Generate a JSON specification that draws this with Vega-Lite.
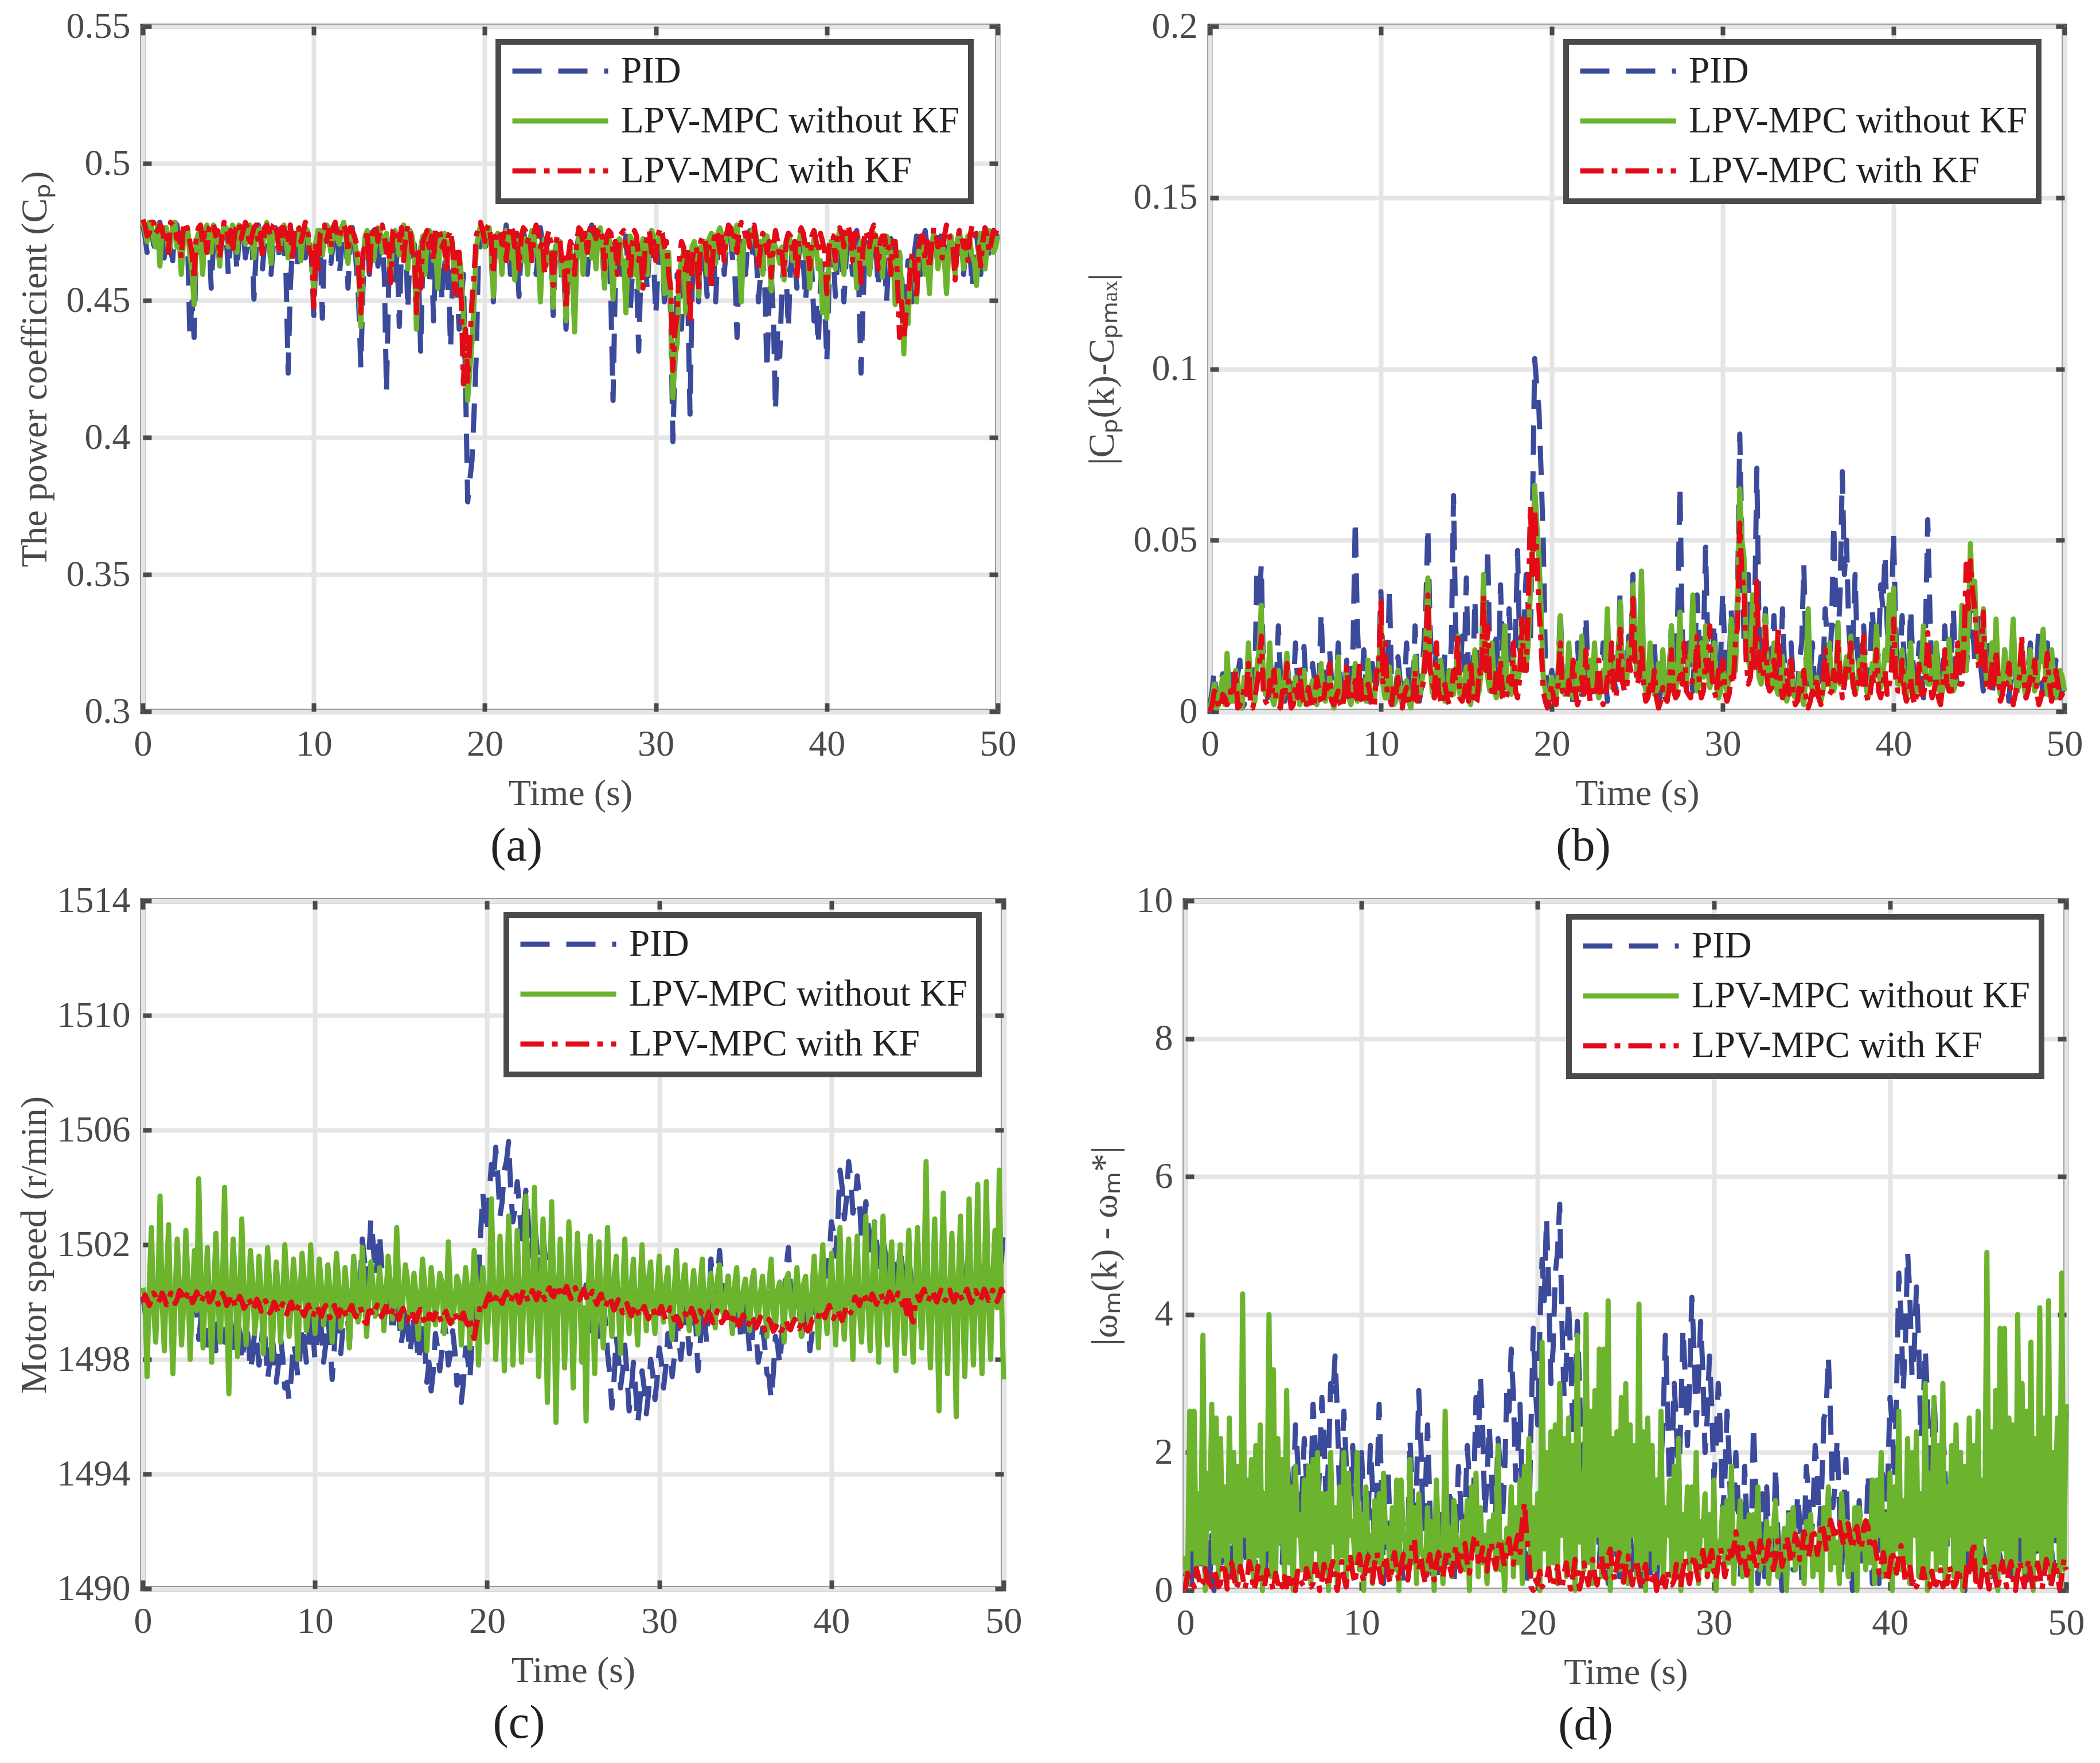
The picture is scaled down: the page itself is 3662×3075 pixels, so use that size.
{
  "$schema": "https://vega.github.io/schema/vega-lite/v6.json",
  "background": "white",
  "padding": {"left": 23, "top": 9, "right": 5, "bottom": 5},
  "config": {
    "font": "Liberation Serif",
    "view": {"stroke": "#4a4a4a", "strokeWidth": 9},
    "axis": {
      "domain": false, "grid": true, "gridColor": "#e5e5e5", "gridWidth": 8,
      "tickColor": "#4a4a4a", "tickWidth": 8, "tickSize": -15,
      "labelFont": "Liberation Serif", "labelFontSize": 64, "labelColor": "#4a4a4a",
      "labelFlush": false, "labelOverlap": false,
      "titleFont": "Liberation Serif", "titleFontSize": 64, "titleColor": "#4a4a4a", "titleFontWeight": "normal"
    },
    "axisX": {"labelPadding": 40, "titlePadding": 22},
    "axisY": {"labelPadding": 37, "titlePadding": 22},
    "legend": {
      "orient": "none", "strokeColor": "#4a4a4a", "strokeWidth": 10, "fillColor": "white",
      "padding": 20, "labelFont": "Liberation Serif", "labelFontSize": 65, "labelColor": "#222222",
      "labelOffset": 18, "labelLimit": 1000, "symbolType": "stroke", "symbolSize": 27889,
      "symbolStrokeWidth": 9, "clipHeight": 62, "rowPadding": 22
    },
    "title": {"orient": "bottom", "frame": "bounds", "font": "Liberation Serif", "fontSize": 82, "fontWeight": "normal", "color": "#222222", "offset": 20}
  },
  "datasets": {
    "sim": [
      {"t":0,"a1":0.4775,"a2":0.4785,"a3":0.4795,"b1":0.002,"b2":0.001,"b3":0,"c1":1500.2,"c2":1500.5,"c3":1500,"d1":0.2,"d2":0.5,"d3":0},
      {"t":0.125,"a1":0.4735,"a2":0.4755,"a3":0.4775,"b1":0.006,"b2":0.004,"b3":0.002,"c1":1499.7,"c2":1500.1,"c3":1500.25,"d1":0.3,"d2":0.1,"d3":0.25},
      {"t":0.25,"a1":0.4675,"a2":0.4715,"a3":0.4735,"b1":0.012,"b2":0.008,"b3":0.006,"c1":1499,"c2":1497.4,"c3":1500.1,"d1":1,"d2":2.6,"d3":0.1},
      {"t":0.375,"a1":0.4765,"a2":0.4785,"a3":0.4745,"b1":0.003,"b2":0.001,"b3":0.005,"c1":1500,"c2":1500.6,"c3":1499.88,"d1":0,"d2":0.6,"d3":0.12},
      {"t":0.5,"a1":0.4765,"a2":0.4775,"a3":0.4785,"b1":0.003,"b2":0.002,"b3":0.001,"c1":1501.2,"c2":1502.6,"c3":1500.05,"d1":1.2,"d2":2.6,"d3":0.05},
      {"t":0.625,"a1":0.4705,"a2":0.4725,"a3":0.4785,"b1":0.009,"b2":0.007,"b3":0.001,"c1":1500.5,"c2":1499.8,"c3":1500.32,"d1":0.5,"d2":0.2,"d3":0.32},
      {"t":0.75,"a1":0.4685,"a2":0.4695,"a3":0.4745,"b1":0.011,"b2":0.01,"b3":0.005,"c1":1499.5,"c2":1498.6,"c3":1500.2,"d1":0.5,"d2":1.4,"d3":0.2},
      {"t":0.875,"a1":0.4775,"a2":0.4775,"a3":0.4755,"b1":0.002,"b2":0.002,"b3":0.004,"c1":1500.3,"c2":1500.4,"c3":1499.95,"d1":0.3,"d2":0.4,"d3":0.05},
      {"t":1,"a1":0.4785,"a2":0.4625,"a3":0.4775,"b1":0.001,"b2":0.017,"b3":0.002,"c1":1501.4,"c2":1503.7,"c3":1500.1,"d1":1.4,"d2":3.7,"d3":0.1},
      {"t":1.125,"a1":0.4725,"a2":0.4745,"a3":0.4765,"b1":0.007,"b2":0.005,"b3":0.003,"c1":1500.2,"c2":1500,"c3":1500.32,"d1":0.2,"d2":0,"d3":0.32},
      {"t":1.25,"a1":0.4655,"a2":0.4765,"a3":0.4715,"b1":0.014,"b2":0.003,"b3":0.008,"c1":1499.3,"c2":1498.3,"c3":1500.15,"d1":0.7,"d2":1.7,"d3":0.15},
      {"t":1.375,"a1":0.4755,"a2":0.4765,"a3":0.4735,"b1":0.004,"b2":0.003,"b3":0.006,"c1":1499.9,"c2":1500.9,"c3":1499.9,"d1":0.1,"d2":0.9,"d3":0.1},
      {"t":1.5,"a1":0.4755,"a2":0.4675,"a3":0.4675,"b1":0.004,"b2":0.012,"b3":0.012,"c1":1500.8,"c2":1502.7,"c3":1500.05,"d1":0.8,"d2":2.7,"d3":0.05},
      {"t":1.625,"a1":0.4685,"a2":0.4705,"a3":0.4785,"b1":0.011,"b2":0.009,"b3":0.001,"c1":1500,"c2":1499.6,"c3":1500.32,"d1":0,"d2":0.4,"d3":0.32},
      {"t":1.75,"a1":0.4645,"a2":0.4775,"a3":0.4775,"b1":0.015,"b2":0.002,"b3":0.002,"c1":1498.9,"c2":1497.5,"c3":1500.2,"d1":1.1,"d2":2.5,"d3":0.2},
      {"t":1.875,"a1":0.4785,"a2":0.4785,"a3":0.4765,"b1":0.001,"b2":0.001,"b3":0.003,"c1":1500.3,"c2":1500.2,"c3":1499.95,"d1":0.3,"d2":0.2,"d3":0.05},
      {"t":2,"a1":0.4775,"a2":0.4695,"a3":0.4725,"b1":0.002,"b2":0.01,"b3":0.007,"c1":1501.5,"c2":1502.2,"c3":1500.1,"d1":1.5,"d2":2.2,"d3":0.1},
      {"t":2.125,"a1":0.4715,"a2":0.4735,"a3":0.4745,"b1":0.008,"b2":0.006,"b3":0.005,"c1":1500.4,"c2":1500.5,"c3":1500.4,"d1":0.4,"d2":0.5,"d3":0.4},
      {"t":2.25,"a1":0.4665,"a2":0.4595,"a3":0.4655,"b1":0.013,"b2":0.02,"b3":0.014,"c1":1499.6,"c2":1498.5,"c3":1500.3,"d1":0.4,"d2":1.5,"d3":0.3},
      {"t":2.375,"a1":0.4745,"a2":0.4715,"a3":0.4775,"b1":0.005,"b2":0.008,"b3":0.002,"c1":1500.6,"c2":1499.9,"c3":1500.02,"d1":0.6,"d2":0.1,"d3":0.02},
      {"t":2.5,"a1":0.4745,"a2":0.4755,"a3":0.4785,"b1":0.005,"b2":0.004,"b3":0.001,"c1":1501.3,"c2":1502.5,"c3":1500.15,"d1":1.3,"d2":2.5,"d3":0.15},
      {"t":2.625,"a1":0.4705,"a2":0.4765,"a3":0.4755,"b1":0.009,"b2":0.003,"b3":0.004,"c1":1500.1,"c2":1500.7,"c3":1500.4,"d1":0.1,"d2":0.7,"d3":0.4},
      {"t":2.75,"a1":0.4375,"a2":0.4665,"a3":0.4715,"b1":0.042,"b2":0.013,"b3":0.008,"c1":1499.2,"c2":1498,"c3":1500.25,"d1":0.8,"d2":2,"d3":0.25},
      {"t":2.875,"a1":0.4495,"a2":0.4615,"a3":0.4675,"b1":0.03,"b2":0.018,"b3":0.012,"c1":1499.7,"c2":1500.1,"c3":1499.98,"d1":0.3,"d2":0.1,"d3":0.02},
      {"t":3,"a1":0.4365,"a2":0.4485,"a3":0.4575,"b1":0.043,"b2":0.031,"b3":0.022,"c1":1500.6,"c2":1501.8,"c3":1500.1,"d1":0.6,"d2":1.8,"d3":0.1},
      {"t":3.125,"a1":0.4675,"a2":0.4715,"a3":0.4735,"b1":0.012,"b2":0.008,"b3":0.006,"c1":1499.8,"c2":1499.7,"c3":1500.35,"d1":0.2,"d2":0.3,"d3":0.35},
      {"t":3.25,"a1":0.4735,"a2":0.4745,"a3":0.4765,"b1":0.006,"b2":0.005,"b3":0.003,"c1":1498.7,"c2":1504.3,"c3":1500.2,"d1":1.3,"d2":4.3,"d3":0.2},
      {"t":3.375,"a1":0.4755,"a2":0.4735,"a3":0.4775,"b1":0.004,"b2":0.006,"b3":0.002,"c1":1499.4,"c2":1500.8,"c3":1499.98,"d1":0.6,"d2":0.8,"d3":0.02},
      {"t":3.5,"a1":0.4615,"a2":0.4595,"a3":0.4705,"b1":0.018,"b2":0.02,"b3":0.009,"c1":1500.4,"c2":1498.4,"c3":1500.15,"d1":0.4,"d2":1.6,"d3":0.15},
      {"t":3.625,"a1":0.4715,"a2":0.4755,"a3":0.4745,"b1":0.008,"b2":0.004,"b3":0.005,"c1":1499.6,"c2":1500.3,"c3":1500.42,"d1":0.4,"d2":0.3,"d3":0.42},
      {"t":3.75,"a1":0.4765,"a2":0.4775,"a3":0.4675,"b1":0.003,"b2":0.002,"b3":0.012,"c1":1498.5,"c2":1501.9,"c3":1500.3,"d1":1.5,"d2":1.9,"d3":0.3},
      {"t":3.875,"a1":0.4735,"a2":0.4725,"a3":0.4765,"b1":0.006,"b2":0.007,"b3":0.003,"c1":1499.2,"c2":1499.9,"c3":1500,"d1":0.8,"d2":0.1,"d3":0},
      {"t":4,"a1":0.4545,"a2":0.4675,"a3":0.4775,"b1":0.025,"b2":0.012,"b3":0.002,"c1":1500.2,"c2":1497.9,"c3":1500.1,"d1":0.2,"d2":2.1,"d3":0.1},
      {"t":4.125,"a1":0.4695,"a2":0.4775,"a3":0.4785,"b1":0.01,"b2":0.002,"b3":0.001,"c1":1499.4,"c2":1500.5,"c3":1500.35,"d1":0.6,"d2":0.5,"d3":0.35},
      {"t":4.25,"a1":0.4755,"a2":0.4755,"a3":0.4735,"b1":0.004,"b2":0.004,"b3":0.006,"c1":1498.3,"c2":1502.4,"c3":1500.2,"d1":1.7,"d2":2.4,"d3":0.2},
      {"t":4.375,"a1":0.4765,"a2":0.4705,"a3":0.4755,"b1":0.003,"b2":0.009,"b3":0.004,"c1":1498.9,"c2":1500,"c3":1499.92,"d1":1.1,"d2":0,"d3":0.08},
      {"t":4.5,"a1":0.4635,"a2":0.4625,"a3":0.4655,"b1":0.016,"b2":0.017,"b3":0.014,"c1":1499.8,"c2":1498.6,"c3":1500.05,"d1":0.2,"d2":1.4,"d3":0.05},
      {"t":4.625,"a1":0.4715,"a2":0.4745,"a3":0.4735,"b1":0.008,"b2":0.005,"b3":0.006,"c1":1499.4,"c2":1500.6,"c3":1500.3,"d1":0.6,"d2":0.6,"d3":0.3},
      {"t":4.75,"a1":0.4775,"a2":0.4765,"a3":0.4785,"b1":0.002,"b2":0.003,"b3":0.001,"c1":1498.6,"c2":1504,"c3":1500.15,"d1":1.4,"d2":4,"d3":0.15},
      {"t":4.875,"a1":0.4745,"a2":0.4765,"a3":0.4775,"b1":0.005,"b2":0.003,"b3":0.002,"c1":1499.3,"c2":1499.8,"c3":1499.88,"d1":0.7,"d2":0.2,"d3":0.12},
      {"t":5,"a1":0.4595,"a2":0.4695,"a3":0.4715,"b1":0.02,"b2":0.01,"b3":0.008,"c1":1500.3,"c2":1496.8,"c3":1500,"d1":0.3,"d2":3.2,"d3":0},
      {"t":5.125,"a1":0.4705,"a2":0.4735,"a3":0.4755,"b1":0.009,"b2":0.006,"b3":0.004,"c1":1499.3,"c2":1500.2,"c3":1500.25,"d1":0.7,"d2":0.2,"d3":0.25},
      {"t":5.25,"a1":0.4745,"a2":0.4775,"a3":0.4675,"b1":0.005,"b2":0.002,"b3":0.012,"c1":1498.1,"c2":1502.2,"c3":1500.1,"d1":1.9,"d2":2.2,"d3":0.1},
      {"t":5.375,"a1":0.4775,"a2":0.4755,"a3":0.4745,"b1":0.002,"b2":0.004,"b3":0.005,"c1":1498.7,"c2":1500.7,"c3":1499.82,"d1":1.3,"d2":0.7,"d3":0.18},
      {"t":5.5,"a1":0.4605,"a2":0.4675,"a3":0.4775,"b1":0.019,"b2":0.012,"b3":0.002,"c1":1499.6,"c2":1498.1,"c3":1499.95,"d1":0.4,"d2":1.9,"d3":0.05},
      {"t":5.625,"a1":0.4725,"a2":0.4775,"a3":0.4785,"b1":0.007,"b2":0.002,"b3":0.001,"c1":1498.9,"c2":1499.9,"c3":1500.2,"d1":1.1,"d2":0.1,"d3":0.2},
      {"t":5.75,"a1":0.4765,"a2":0.4755,"a3":0.4725,"b1":0.003,"b2":0.004,"b3":0.007,"c1":1497.9,"c2":1502.9,"c3":1500.05,"d1":2.1,"d2":2.9,"d3":0.05},
      {"t":5.875,"a1":0.4755,"a2":0.4735,"a3":0.4755,"b1":0.004,"b2":0.006,"b3":0.004,"c1":1498.5,"c2":1500.4,"c3":1499.78,"d1":1.5,"d2":0.4,"d3":0.22},
      {"t":6,"a1":0.4655,"a2":0.4705,"a3":0.4785,"b1":0.014,"b2":0.009,"b3":0.001,"c1":1499.4,"c2":1498.5,"c3":1499.9,"d1":0.6,"d2":1.5,"d3":0.1},
      {"t":6.125,"a1":0.4705,"a2":0.4765,"a3":0.4765,"b1":0.009,"b2":0.003,"b3":0.003,"c1":1498.7,"c2":1500,"c3":1500.15,"d1":1.3,"d2":0,"d3":0.15},
      {"t":6.25,"a1":0.4755,"a2":0.4775,"a3":0.4695,"b1":0.004,"b2":0.002,"b3":0.01,"c1":1497.6,"c2":1501.8,"c3":1500,"d1":2.4,"d2":1.8,"d3":0},
      {"t":6.375,"a1":0.4735,"a2":0.4715,"a3":0.4735,"b1":0.006,"b2":0.008,"b3":0.006,"c1":1498.1,"c2":1500.8,"c3":1499.72,"d1":1.9,"d2":0.8,"d3":0.28},
      {"t":6.5,"a1":0.4505,"a2":0.4655,"a3":0.4765,"b1":0.029,"b2":0.014,"b3":0.003,"c1":1499,"c2":1498.9,"c3":1499.85,"d1":1,"d2":1.1,"d3":0.15},
      {"t":6.625,"a1":0.4675,"a2":0.4755,"a3":0.4775,"b1":0.012,"b2":0.004,"b3":0.002,"c1":1498.6,"c2":1499.7,"c3":1500.1,"d1":1.4,"d2":0.3,"d3":0.1},
      {"t":6.75,"a1":0.4775,"a2":0.4765,"a3":0.4715,"b1":0.002,"b2":0.003,"b3":0.008,"c1":1497.8,"c2":1501.6,"c3":1499.95,"d1":2.2,"d2":1.6,"d3":0.05},
      {"t":6.875,"a1":0.4745,"a2":0.4745,"a3":0.4745,"b1":0.005,"b2":0.005,"b3":0.005,"c1":1498.4,"c2":1500.3,"c3":1499.68,"d1":1.6,"d2":0.3,"d3":0.32},
      {"t":7,"a1":0.4615,"a2":0.4695,"a3":0.4655,"b1":0.018,"b2":0.01,"b3":0.014,"c1":1499.5,"c2":1498.2,"c3":1499.8,"d1":0.5,"d2":1.8,"d3":0.2},
      {"t":7.125,"a1":0.4715,"a2":0.4755,"a3":0.4765,"b1":0.008,"b2":0.004,"b3":0.003,"c1":1498.6,"c2":1500.1,"c3":1500.05,"d1":1.4,"d2":0.1,"d3":0.05},
      {"t":7.25,"a1":0.4735,"a2":0.4785,"a3":0.4775,"b1":0.006,"b2":0.001,"b3":0.002,"c1":1497.3,"c2":1501.9,"c3":1499.9,"d1":2.7,"d2":1.9,"d3":0.1},
      {"t":7.375,"a1":0.4765,"a2":0.4725,"a3":0.4755,"b1":0.003,"b2":0.007,"b3":0.004,"c1":1497.9,"c2":1500.6,"c3":1499.62,"d1":2.1,"d2":0.6,"d3":0.38},
      {"t":7.5,"a1":0.4595,"a2":0.4635,"a3":0.4735,"b1":0.02,"b2":0.016,"b3":0.006,"c1":1498.9,"c2":1498,"c3":1499.75,"d1":1.1,"d2":2,"d3":0.25},
      {"t":7.625,"a1":0.4695,"a2":0.4765,"a3":0.4775,"b1":0.01,"b2":0.003,"b3":0.002,"c1":1498.2,"c2":1499.8,"c3":1500,"d1":1.8,"d2":0.2,"d3":0},
      {"t":7.75,"a1":0.4765,"a2":0.4755,"a3":0.4785,"b1":0.003,"b2":0.004,"b3":0.001,"c1":1497.2,"c2":1501.4,"c3":1499.85,"d1":2.8,"d2":1.4,"d3":0.15},
      {"t":7.875,"a1":0.4755,"a2":0.4735,"a3":0.4735,"b1":0.004,"b2":0.006,"b3":0.006,"c1":1497.8,"c2":1500.4,"c3":1499.62,"d1":2.2,"d2":0.4,"d3":0.38},
      {"t":8,"a1":0.4645,"a2":0.4685,"a3":0.4665,"b1":0.015,"b2":0.011,"b3":0.013,"c1":1498.8,"c2":1498.6,"c3":1499.8,"d1":1.2,"d2":1.4,"d3":0.2},
      {"t":8.125,"a1":0.4715,"a2":0.4755,"a3":0.4765,"b1":0.008,"b2":0.004,"b3":0.003,"c1":1498.1,"c2":1500,"c3":1499.95,"d1":1.9,"d2":0,"d3":0.05},
      {"t":8.25,"a1":0.4725,"a2":0.4775,"a3":0.4765,"b1":0.007,"b2":0.002,"b3":0.003,"c1":1497,"c2":1502,"c3":1499.7,"d1":3,"d2":2,"d3":0.3},
      {"t":8.375,"a1":0.4595,"a2":0.4725,"a3":0.4745,"b1":0.02,"b2":0.007,"b3":0.005,"c1":1497.2,"c2":1500.7,"c3":1499.58,"d1":2.8,"d2":0.7,"d3":0.42},
      {"t":8.5,"a1":0.4235,"a2":0.4655,"a3":0.4705,"b1":0.056,"b2":0.014,"b3":0.009,"c1":1496.6,"c2":1498.8,"c3":1499.85,"d1":3.4,"d2":1.2,"d3":0.15},
      {"t":8.625,"a1":0.4545,"a2":0.4765,"a3":0.4775,"b1":0.025,"b2":0.003,"b3":0.002,"c1":1497.4,"c2":1499.9,"c3":1500,"d1":2.6,"d2":0.1,"d3":0},
      {"t":8.75,"a1":0.4695,"a2":0.4745,"a3":0.4645,"b1":0.01,"b2":0.005,"b3":0.015,"c1":1498.6,"c2":1501.5,"c3":1499.75,"d1":1.4,"d2":1.5,"d3":0.25},
      {"t":8.875,"a1":0.4735,"a2":0.4715,"a3":0.4755,"b1":0.006,"b2":0.008,"b3":0.004,"c1":1498.2,"c2":1500.5,"c3":1499.58,"d1":1.8,"d2":0.5,"d3":0.42},
      {"t":9,"a1":0.4615,"a2":0.4705,"a3":0.4775,"b1":0.018,"b2":0.009,"b3":0.002,"c1":1497.4,"c2":1498,"c3":1499.8,"d1":2.6,"d2":2,"d3":0.2},
      {"t":9.125,"a1":0.4705,"a2":0.4765,"a3":0.4765,"b1":0.009,"b2":0.003,"b3":0.003,"c1":1498.1,"c2":1500.1,"c3":1499.95,"d1":1.9,"d2":0.1,"d3":0.05},
      {"t":9.25,"a1":0.4765,"a2":0.4645,"a3":0.4715,"b1":0.003,"b2":0.015,"b3":0.008,"c1":1499.2,"c2":1501.7,"c3":1499.7,"d1":0.8,"d2":1.7,"d3":0.3},
      {"t":9.375,"a1":0.4745,"a2":0.4735,"a3":0.4745,"b1":0.005,"b2":0.006,"b3":0.005,"c1":1498.7,"c2":1500.8,"c3":1499.52,"d1":1.3,"d2":0.8,"d3":0.48},
      {"t":9.5,"a1":0.4655,"a2":0.4765,"a3":0.4785,"b1":0.014,"b2":0.003,"b3":0.001,"c1":1497.9,"c2":1499,"c3":1499.75,"d1":2.1,"d2":1,"d3":0.25},
      {"t":9.625,"a1":0.4725,"a2":0.4755,"a3":0.4775,"b1":0.007,"b2":0.004,"b3":0.002,"c1":1498.6,"c2":1499.6,"c3":1499.9,"d1":1.4,"d2":0.4,"d3":0.1},
      {"t":9.75,"a1":0.4715,"a2":0.4675,"a3":0.4675,"b1":0.008,"b2":0.012,"b3":0.012,"c1":1499.6,"c2":1502,"c3":1499.65,"d1":0.4,"d2":2,"d3":0.35},
      {"t":9.875,"a1":0.4645,"a2":0.4695,"a3":0.4675,"b1":0.015,"b2":0.01,"b3":0.012,"c1":1499,"c2":1500.3,"c3":1499.48,"d1":1,"d2":0.3,"d3":0.52},
      {"t":10,"a1":0.4445,"a2":0.4515,"a3":0.4475,"b1":0.035,"b2":0.028,"b3":0.032,"c1":1498,"c2":1498.9,"c3":1499.7,"d1":2,"d2":1.1,"d3":0.3},
      {"t":10.125,"a1":0.4675,"a2":0.4715,"a3":0.4715,"b1":0.012,"b2":0.008,"b3":0.008,"c1":1498.7,"c2":1500,"c3":1499.88,"d1":1.3,"d2":0,"d3":0.12},
      {"t":10.25,"a1":0.4755,"a2":0.4755,"a3":0.4595,"b1":0.004,"b2":0.004,"b3":0.02,"c1":1499.8,"c2":1501.5,"c3":1499.65,"d1":0.2,"d2":1.5,"d3":0.35},
      {"t":10.375,"a1":0.4695,"a2":0.4755,"a3":0.4745,"b1":0.01,"b2":0.004,"b3":0.005,"c1":1499,"c2":1500.6,"c3":1499.5,"d1":1,"d2":0.6,"d3":0.5},
      {"t":10.5,"a1":0.4435,"a2":0.4665,"a3":0.4755,"b1":0.036,"b2":0.013,"b3":0.004,"c1":1497.9,"c2":1499.2,"c3":1499.75,"d1":2.1,"d2":0.8,"d3":0.25},
      {"t":10.625,"a1":0.4715,"a2":0.4735,"a3":0.4775,"b1":0.008,"b2":0.006,"b3":0.002,"c1":1498.5,"c2":1499.9,"c3":1499.88,"d1":1.5,"d2":0.1,"d3":0.12},
      {"t":10.75,"a1":0.4735,"a2":0.4775,"a3":0.4715,"b1":0.006,"b2":0.002,"b3":0.008,"c1":1499.5,"c2":1501.3,"c3":1499.6,"d1":0.5,"d2":1.3,"d3":0.4},
      {"t":10.875,"a1":0.4755,"a2":0.4765,"a3":0.4755,"b1":0.004,"b2":0.003,"b3":0.004,"c1":1498.6,"c2":1500.4,"c3":1499.45,"d1":1.4,"d2":0.4,"d3":0.55},
      {"t":11,"a1":0.4635,"a2":0.4675,"a3":0.4695,"b1":0.016,"b2":0.012,"b3":0.01,"c1":1497.3,"c2":1498.6,"c3":1499.7,"d1":2.7,"d2":1.4,"d3":0.3},
      {"t":11.125,"a1":0.4705,"a2":0.4745,"a3":0.4765,"b1":0.009,"b2":0.005,"b3":0.003,"c1":1498.4,"c2":1500.2,"c3":1499.88,"d1":1.6,"d2":0.2,"d3":0.12},
      {"t":11.25,"a1":0.4775,"a2":0.4765,"a3":0.4785,"b1":0.002,"b2":0.003,"b3":0.001,"c1":1499.9,"c2":1501.7,"c3":1499.65,"d1":0.1,"d2":1.7,"d3":0.35},
      {"t":11.375,"a1":0.4735,"a2":0.4725,"a3":0.4745,"b1":0.006,"b2":0.007,"b3":0.005,"c1":1499.2,"c2":1500.7,"c3":1499.5,"d1":0.8,"d2":0.7,"d3":0.5},
      {"t":11.5,"a1":0.4595,"a2":0.4705,"a3":0.4725,"b1":0.02,"b2":0.009,"b3":0.007,"c1":1498.2,"c2":1499.1,"c3":1499.75,"d1":1.8,"d2":0.9,"d3":0.25},
      {"t":11.625,"a1":0.4685,"a2":0.4765,"a3":0.4775,"b1":0.011,"b2":0.003,"b3":0.002,"c1":1499.1,"c2":1499.8,"c3":1499.88,"d1":0.9,"d2":0.2,"d3":0.12},
      {"t":11.75,"a1":0.4745,"a2":0.4785,"a3":0.4775,"b1":0.005,"b2":0.001,"b3":0.002,"c1":1500.3,"c2":1501.2,"c3":1499.6,"d1":0.3,"d2":1.2,"d3":0.4},
      {"t":11.875,"a1":0.4765,"a2":0.4735,"a3":0.4755,"b1":0.003,"b2":0.006,"b3":0.004,"c1":1499.6,"c2":1500.3,"c3":1499.45,"d1":0.4,"d2":0.3,"d3":0.55},
      {"t":12,"a1":0.4545,"a2":0.4635,"a3":0.4675,"b1":0.025,"b2":0.016,"b3":0.012,"c1":1498.6,"c2":1498.4,"c3":1499.7,"d1":1.4,"d2":1.6,"d3":0.3},
      {"t":12.125,"a1":0.4695,"a2":0.4755,"a3":0.4765,"b1":0.01,"b2":0.004,"b3":0.003,"c1":1499.4,"c2":1500,"c3":1499.88,"d1":0.6,"d2":0,"d3":0.12},
      {"t":12.25,"a1":0.4765,"a2":0.4755,"a3":0.4755,"b1":0.003,"b2":0.004,"b3":0.004,"c1":1500.5,"c2":1501.6,"c3":1499.65,"d1":0.5,"d2":1.6,"d3":0.35},
      {"t":12.375,"a1":0.4725,"a2":0.4715,"a3":0.4735,"b1":0.007,"b2":0.008,"b3":0.006,"c1":1500.1,"c2":1500.8,"c3":1499.48,"d1":0.1,"d2":0.8,"d3":0.52},
      {"t":12.5,"a1":0.4615,"a2":0.4675,"a3":0.4705,"b1":0.018,"b2":0.012,"b3":0.009,"c1":1499.4,"c2":1499.3,"c3":1499.7,"d1":0.6,"d2":0.7,"d3":0.3},
      {"t":12.625,"a1":0.4495,"a2":0.4595,"a3":0.4615,"b1":0.03,"b2":0.02,"b3":0.018,"c1":1500.6,"c2":1499.7,"c3":1499.85,"d1":0.6,"d2":0.3,"d3":0.15},
      {"t":12.75,"a1":0.4255,"a2":0.4405,"a3":0.4455,"b1":0.054,"b2":0.039,"b3":0.034,"c1":1502.2,"c2":1501.9,"c3":1499.6,"d1":2.2,"d2":1.9,"d3":0.4},
      {"t":12.875,"a1":0.4545,"a2":0.4645,"a3":0.4675,"b1":0.025,"b2":0.015,"b3":0.012,"c1":1501.5,"c2":1500.4,"c3":1499.32,"d1":1.5,"d2":0.4,"d3":0.68},
      {"t":13,"a1":0.4675,"a2":0.4735,"a3":0.4695,"b1":0.012,"b2":0.006,"b3":0.01,"c1":1500.5,"c2":1498.8,"c3":1499.25,"d1":0.5,"d2":1.2,"d3":0.75},
      {"t":13.125,"a1":0.4735,"a2":0.4755,"a3":0.4755,"b1":0.006,"b2":0.004,"b3":0.004,"c1":1501.5,"c2":1500.1,"c3":1499.68,"d1":1.5,"d2":0.1,"d3":0.32},
      {"t":13.25,"a1":0.4595,"a2":0.4655,"a3":0.4595,"b1":0.02,"b2":0.014,"b3":0.02,"c1":1502.9,"c2":1501.4,"c3":1499.7,"d1":2.9,"d2":1.4,"d3":0.3},
      {"t":13.375,"a1":0.4705,"a2":0.4735,"a3":0.4735,"b1":0.009,"b2":0.006,"b3":0.006,"c1":1502.1,"c2":1500.6,"c3":1499.52,"d1":2.1,"d2":0.6,"d3":0.48},
      {"t":13.5,"a1":0.4755,"a2":0.4645,"a3":0.4765,"b1":0.004,"b2":0.015,"b3":0.003,"c1":1500.9,"c2":1499.5,"c3":1499.75,"d1":0.9,"d2":0.5,"d3":0.25},
      {"t":13.625,"a1":0.4735,"a2":0.4715,"a3":0.4775,"b1":0.006,"b2":0.008,"b3":0.002,"c1":1501.4,"c2":1499.8,"c3":1499.9,"d1":1.4,"d2":0.2,"d3":0.1},
      {"t":13.75,"a1":0.4625,"a2":0.4765,"a3":0.4715,"b1":0.017,"b2":0.003,"b3":0.008,"c1":1502.4,"c2":1501.2,"c3":1499.65,"d1":2.4,"d2":1.2,"d3":0.35},
      {"t":13.875,"a1":0.4695,"a2":0.4755,"a3":0.4755,"b1":0.01,"b2":0.004,"b3":0.004,"c1":1501.3,"c2":1500.3,"c3":1499.48,"d1":1.3,"d2":0.3,"d3":0.52},
      {"t":14,"a1":0.4715,"a2":0.4675,"a3":0.4775,"b1":0.008,"b2":0.012,"b3":0.002,"c1":1499.8,"c2":1499,"c3":1499.7,"d1":0.2,"d2":1,"d3":0.3},
      {"t":14.125,"a1":0.4595,"a2":0.4725,"a3":0.4735,"b1":0.02,"b2":0.007,"b3":0.006,"c1":1500.3,"c2":1500,"c3":1499.85,"d1":0.3,"d2":0,"d3":0.15},
      {"t":14.25,"a1":0.4165,"a2":0.4745,"a3":0.4675,"b1":0.063,"b2":0.005,"b3":0.012,"c1":1501.2,"c2":1501.6,"c3":1499.6,"d1":1.2,"d2":1.6,"d3":0.4},
      {"t":14.375,"a1":0.4545,"a2":0.4695,"a3":0.4705,"b1":0.025,"b2":0.01,"b3":0.009,"c1":1500.2,"c2":1500.7,"c3":1499.45,"d1":0.2,"d2":0.7,"d3":0.55},
      {"t":14.5,"a1":0.4675,"a2":0.4575,"a3":0.4565,"b1":0.012,"b2":0.022,"b3":0.023,"c1":1498.9,"c2":1499.4,"c3":1499.7,"d1":1.1,"d2":0.6,"d3":0.3},
      {"t":14.625,"a1":0.4715,"a2":0.4745,"a3":0.4755,"b1":0.008,"b2":0.005,"b3":0.004,"c1":1499.5,"c2":1499.9,"c3":1499.82,"d1":0.5,"d2":0.1,"d3":0.18},
      {"t":14.75,"a1":0.4575,"a2":0.4755,"a3":0.4765,"b1":0.022,"b2":0.004,"b3":0.003,"c1":1500.4,"c2":1502.6,"c3":1499.55,"d1":0.4,"d2":2.6,"d3":0.45},
      {"t":14.875,"a1":0.4675,"a2":0.4715,"a3":0.4745,"b1":0.012,"b2":0.008,"b3":0.005,"c1":1499.6,"c2":1500.5,"c3":1499.4,"d1":0.4,"d2":0.5,"d3":0.6},
      {"t":15,"a1":0.4405,"a2":0.4665,"a3":0.4705,"b1":0.039,"b2":0.013,"b3":0.009,"c1":1498.5,"c2":1499.1,"c3":1499.65,"d1":1.5,"d2":0.9,"d3":0.35},
      {"t":15.125,"a1":0.4695,"a2":0.4755,"a3":0.4765,"b1":0.01,"b2":0.004,"b3":0.003,"c1":1499,"c2":1500.2,"c3":1499.78,"d1":1,"d2":0.2,"d3":0.22},
      {"t":15.25,"a1":0.4735,"a2":0.4775,"a3":0.4645,"b1":0.006,"b2":0.002,"b3":0.015,"c1":1499.9,"c2":1501.3,"c3":1499.5,"d1":0.1,"d2":1.3,"d3":0.5},
      {"t":15.375,"a1":0.4715,"a2":0.4725,"a3":0.4735,"b1":0.008,"b2":0.007,"b3":0.006,"c1":1499.2,"c2":1500.8,"c3":1499.35,"d1":0.8,"d2":0.8,"d3":0.65},
      {"t":15.5,"a1":0.4465,"a2":0.4615,"a3":0.4775,"b1":0.033,"b2":0.018,"b3":0.002,"c1":1498.2,"c2":1499.6,"c3":1499.6,"d1":1.8,"d2":0.4,"d3":0.4},
      {"t":15.625,"a1":0.4675,"a2":0.4755,"a3":0.4765,"b1":0.012,"b2":0.004,"b3":0.003,"c1":1498.7,"c2":1499.7,"c3":1499.72,"d1":1.3,"d2":0.3,"d3":0.28},
      {"t":15.75,"a1":0.4695,"a2":0.4735,"a3":0.4675,"b1":0.01,"b2":0.006,"b3":0.012,"c1":1499.6,"c2":1501,"c3":1499.45,"d1":0.4,"d2":1,"d3":0.55},
      {"t":15.875,"a1":0.4705,"a2":0.4675,"a3":0.4695,"b1":0.009,"b2":0.012,"b3":0.01,"c1":1498.9,"c2":1500.3,"c3":1499.32,"d1":1.1,"d2":0.3,"d3":0.68},
      {"t":16,"a1":0.4515,"a2":0.4395,"a3":0.4455,"b1":0.028,"b2":0.04,"b3":0.034,"c1":1497.9,"c2":1498.7,"c3":1499.6,"d1":2.1,"d2":1.3,"d3":0.4},
      {"t":16.125,"a1":0.4595,"a2":0.4645,"a3":0.4675,"b1":0.02,"b2":0.015,"b3":0.012,"c1":1498.4,"c2":1500,"c3":1499.75,"d1":1.6,"d2":0,"d3":0.25},
      {"t":16.25,"a1":0.4315,"a2":0.4695,"a3":0.4545,"b1":0.048,"b2":0.01,"b3":0.025,"c1":1499.3,"c2":1501.5,"c3":1499.5,"d1":0.7,"d2":1.5,"d3":0.5},
      {"t":16.375,"a1":0.4645,"a2":0.4735,"a3":0.4715,"b1":0.015,"b2":0.006,"b3":0.008,"c1":1498.5,"c2":1500.6,"c3":1499.25,"d1":1.5,"d2":0.6,"d3":0.75},
      {"t":16.5,"a1":0.4705,"a2":0.4595,"a3":0.4735,"b1":0.009,"b2":0.02,"b3":0.006,"c1":1497.2,"c2":1498.3,"c3":1499.2,"d1":2.8,"d2":1.7,"d3":0.8},
      {"t":16.625,"a1":0.4675,"a2":0.4715,"a3":0.4755,"b1":0.012,"b2":0.008,"b3":0.004,"c1":1497.9,"c2":1499.8,"c3":1499.58,"d1":2.1,"d2":0.2,"d3":0.42},
      {"t":16.75,"a1":0.4555,"a2":0.4755,"a3":0.4675,"b1":0.024,"b2":0.004,"b3":0.012,"c1":1496.9,"c2":1501.2,"c3":1499.55,"d1":3.1,"d2":1.2,"d3":0.45},
      {"t":16.875,"a1":0.4715,"a2":0.4745,"a3":0.4735,"b1":0.008,"b2":0.005,"b3":0.006,"c1":1497.6,"c2":1500.4,"c3":1499.38,"d1":2.4,"d2":0.4,"d3":0.62},
      {"t":17,"a1":0.4425,"a2":0.4645,"a3":0.4645,"b1":0.037,"b2":0.015,"b3":0.015,"c1":1498.9,"c2":1499.2,"c3":1499.6,"d1":1.1,"d2":0.8,"d3":0.4},
      {"t":17.125,"a1":0.4645,"a2":0.4695,"a3":0.4755,"b1":0.015,"b2":0.01,"b3":0.004,"c1":1498.4,"c2":1500.1,"c3":1499.72,"d1":1.6,"d2":0.1,"d3":0.28},
      {"t":17.25,"a1":0.4725,"a2":0.4545,"a3":0.4765,"b1":0.007,"b2":0.025,"b3":0.003,"c1":1497.6,"c2":1501,"c3":1499.45,"d1":2.4,"d2":1,"d3":0.55},
      {"t":17.375,"a1":0.4695,"a2":0.4715,"a3":0.4745,"b1":0.01,"b2":0.008,"b3":0.005,"c1":1498.3,"c2":1500.7,"c3":1499.3,"d1":1.7,"d2":0.7,"d3":0.7},
      {"t":17.5,"a1":0.4495,"a2":0.4735,"a3":0.4695,"b1":0.03,"b2":0.006,"b3":0.01,"c1":1499.4,"c2":1498.9,"c3":1499.55,"d1":0.6,"d2":1.1,"d3":0.45},
      {"t":17.625,"a1":0.4615,"a2":0.4745,"a3":0.4715,"b1":0.018,"b2":0.005,"b3":0.008,"c1":1498.8,"c2":1499.7,"c3":1499.68,"d1":1.2,"d2":0.3,"d3":0.32},
      {"t":17.75,"a1":0.4675,"a2":0.4635,"a3":0.4595,"b1":0.012,"b2":0.016,"b3":0.02,"c1":1497.8,"c2":1502.1,"c3":1499.4,"d1":2.2,"d2":2.1,"d3":0.6},
      {"t":17.875,"a1":0.4575,"a2":0.4715,"a3":0.4735,"b1":0.022,"b2":0.008,"b3":0.006,"c1":1498.2,"c2":1500.3,"c3":1499.25,"d1":1.8,"d2":0.3,"d3":0.75},
      {"t":18,"a1":0.4325,"a2":0.4705,"a3":0.4755,"b1":0.047,"b2":0.009,"b3":0.004,"c1":1499,"c2":1499.3,"c3":1499.5,"d1":1,"d2":0.7,"d3":0.5},
      {"t":18.125,"a1":0.4615,"a2":0.4675,"a3":0.4695,"b1":0.018,"b2":0.012,"b3":0.01,"c1":1498.3,"c2":1500,"c3":1499.65,"d1":1.7,"d2":0,"d3":0.35},
      {"t":18.25,"a1":0.4645,"a2":0.4525,"a3":0.4525,"b1":0.015,"b2":0.027,"b3":0.027,"c1":1497.1,"c2":1500.9,"c3":1499.4,"d1":2.9,"d2":0.9,"d3":0.6},
      {"t":18.375,"a1":0.4545,"a2":0.4645,"a3":0.4675,"b1":0.025,"b2":0.015,"b3":0.012,"c1":1497.4,"c2":1500.6,"c3":1499.25,"d1":2.6,"d2":0.6,"d3":0.75},
      {"t":18.5,"a1":0.4395,"a2":0.4675,"a3":0.4675,"b1":0.04,"b2":0.012,"b3":0.012,"c1":1496.5,"c2":1498.5,"c3":1499.5,"d1":3.5,"d2":1.5,"d3":0.5},
      {"t":18.625,"a1":0.4495,"a2":0.4595,"a3":0.4495,"b1":0.03,"b2":0.02,"b3":0.03,"c1":1497.2,"c2":1499.8,"c3":1499.62,"d1":2.8,"d2":0.2,"d3":0.38},
      {"t":18.75,"a1":0.4595,"a2":0.4445,"a3":0.4195,"b1":0.02,"b2":0.035,"b3":0.06,"c1":1498.4,"c2":1501.2,"c3":1499.35,"d1":1.6,"d2":1.2,"d3":0.65},
      {"t":18.875,"a1":0.4195,"a2":0.4345,"a3":0.4395,"b1":0.06,"b2":0.045,"b3":0.04,"c1":1498,"c2":1500.4,"c3":1499.2,"d1":2,"d2":0.4,"d3":0.8},
      {"t":19,"a1":0.3765,"a2":0.4135,"a3":0.4205,"b1":0.103,"b2":0.066,"b3":0.059,"c1":1497.3,"c2":1498.4,"c3":1499.45,"d1":2.7,"d2":1.6,"d3":0.55},
      {"t":19.125,"a1":0.3845,"a2":0.4245,"a3":0.4345,"b1":0.095,"b2":0.055,"b3":0.045,"c1":1498.6,"c2":1500.1,"c3":1499,"d1":1.4,"d2":0.1,"d3":1},
      {"t":19.25,"a1":0.3915,"a2":0.4345,"a3":0.4495,"b1":0.088,"b2":0.045,"b3":0.03,"c1":1499.6,"c2":1501.8,"c3":1498.73,"d1":0.4,"d2":1.8,"d3":1.27},
      {"t":19.375,"a1":0.4095,"a2":0.4495,"a3":0.4595,"b1":0.07,"b2":0.03,"b3":0.02,"c1":1500.1,"c2":1500.7,"c3":1499.2,"d1":0.1,"d2":0.7,"d3":0.8},
      {"t":19.5,"a1":0.4295,"a2":0.4695,"a3":0.4735,"b1":0.05,"b2":0.01,"b3":0.006,"c1":1500.8,"c2":1497.8,"c3":1499.5,"d1":0.8,"d2":2.2,"d3":0.5},
      {"t":19.625,"a1":0.4645,"a2":0.4735,"a3":0.4765,"b1":0.015,"b2":0.006,"b3":0.003,"c1":1502.4,"c2":1499.8,"c3":1499.95,"d1":2.4,"d2":0.2,"d3":0.05},
      {"t":19.75,"a1":0.4755,"a2":0.4775,"a3":0.4785,"b1":0.004,"b2":0.002,"b3":0.001,"c1":1503.8,"c2":1501.2,"c3":1500,"d1":3.8,"d2":1.2,"d3":0},
      {"t":19.875,"a1":0.4715,"a2":0.4745,"a3":0.4755,"b1":0.008,"b2":0.005,"b3":0.004,"c1":1502.9,"c2":1500.3,"c3":1499.85,"d1":2.9,"d2":0.3,"d3":0.15},
      {"t":20,"a1":0.4675,"a2":0.4695,"a3":0.4715,"b1":0.012,"b2":0.01,"b3":0.008,"c1":1502.4,"c2":1498.6,"c3":1500.1,"d1":2.4,"d2":1.4,"d3":0.1},
      {"t":20.125,"a1":0.4735,"a2":0.4755,"a3":0.4765,"b1":0.006,"b2":0.004,"b3":0.003,"c1":1503.8,"c2":1500,"c3":1500.28,"d1":3.8,"d2":0,"d3":0.28},
      {"t":20.25,"a1":0.4765,"a2":0.4765,"a3":0.4775,"b1":0.003,"b2":0.003,"b3":0.002,"c1":1504.8,"c2":1503.6,"c3":1500.05,"d1":4.8,"d2":3.6,"d3":0.05},
      {"t":20.375,"a1":0.4675,"a2":0.4695,"a3":0.4715,"b1":0.012,"b2":0.01,"b3":0.008,"c1":1504.2,"c2":1500.6,"c3":1499.9,"d1":4.2,"d2":0.6,"d3":0.1},
      {"t":20.5,"a1":0.4495,"a2":0.4515,"a3":0.4595,"b1":0.03,"b2":0.028,"b3":0.02,"c1":1505.4,"c2":1498,"c3":1500.15,"d1":5.4,"d2":2,"d3":0.15},
      {"t":20.625,"a1":0.4695,"a2":0.4715,"a3":0.4735,"b1":0.01,"b2":0.008,"b3":0.006,"c1":1504.4,"c2":1499.7,"c3":1500.32,"d1":4.4,"d2":0.3,"d3":0.32},
      {"t":20.75,"a1":0.4735,"a2":0.4745,"a3":0.4755,"b1":0.006,"b2":0.005,"b3":0.004,"c1":1503,"c2":1502.3,"c3":1500.1,"d1":3,"d2":2.3,"d3":0.1},
      {"t":20.875,"a1":0.4715,"a2":0.4735,"a3":0.4755,"b1":0.008,"b2":0.006,"b3":0.004,"c1":1503.5,"c2":1500.4,"c3":1499.95,"d1":3.5,"d2":0.4,"d3":0.05},
      {"t":21,"a1":0.4615,"a2":0.4595,"a3":0.4705,"b1":0.018,"b2":0.02,"b3":0.009,"c1":1504.6,"c2":1497.6,"c3":1500.2,"d1":4.6,"d2":2.4,"d3":0.2},
      {"t":21.125,"a1":0.4705,"a2":0.4725,"a3":0.4745,"b1":0.009,"b2":0.007,"b3":0.005,"c1":1504.9,"c2":1500.1,"c3":1500.35,"d1":4.9,"d2":0.1,"d3":0.35},
      {"t":21.25,"a1":0.4775,"a2":0.4755,"a3":0.4645,"b1":0.002,"b2":0.004,"b3":0.015,"c1":1505.6,"c2":1503,"c3":1500.1,"d1":5.6,"d2":3,"d3":0.1},
      {"t":21.375,"a1":0.4725,"a2":0.4745,"a3":0.4735,"b1":0.007,"b2":0.005,"b3":0.006,"c1":1503.9,"c2":1500.8,"c3":1499.98,"d1":3.9,"d2":0.8,"d3":0.02},
      {"t":21.5,"a1":0.4595,"a2":0.4655,"a3":0.4775,"b1":0.02,"b2":0.014,"b3":0.002,"c1":1502.8,"c2":1497.8,"c3":1500.25,"d1":2.8,"d2":2.2,"d3":0.25},
      {"t":21.625,"a1":0.4695,"a2":0.4735,"a3":0.4755,"b1":0.01,"b2":0.006,"b3":0.004,"c1":1503.3,"c2":1499.8,"c3":1500.4,"d1":3.3,"d2":0.2,"d3":0.4},
      {"t":21.75,"a1":0.4745,"a2":0.4575,"a3":0.4695,"b1":0.005,"b2":0.022,"b3":0.01,"c1":1504.2,"c2":1502.5,"c3":1500.15,"d1":4.2,"d2":2.5,"d3":0.15},
      {"t":21.875,"a1":0.4675,"a2":0.4705,"a3":0.4745,"b1":0.012,"b2":0.009,"b3":0.005,"c1":1503.4,"c2":1500.3,"c3":1499.98,"d1":3.4,"d2":0.3,"d3":0.02},
      {"t":22,"a1":0.4515,"a2":0.4735,"a3":0.4615,"b1":0.028,"b2":0.006,"b3":0.018,"c1":1502.2,"c2":1497.9,"c3":1500.2,"d1":2.2,"d2":2.1,"d3":0.2},
      {"t":22.125,"a1":0.4695,"a2":0.4735,"a3":0.4725,"b1":0.01,"b2":0.006,"b3":0.007,"c1":1502.8,"c2":1500,"c3":1500.45,"d1":2.8,"d2":0,"d3":0.45},
      {"t":22.25,"a1":0.4755,"a2":0.4645,"a3":0.4765,"b1":0.004,"b2":0.015,"b3":0.003,"c1":1503.9,"c2":1503.7,"c3":1500.3,"d1":3.9,"d2":3.7,"d3":0.3},
      {"t":22.375,"a1":0.4715,"a2":0.4725,"a3":0.4755,"b1":0.008,"b2":0.007,"b3":0.004,"c1":1503,"c2":1500.7,"c3":1500.02,"d1":3,"d2":0.7,"d3":0.02},
      {"t":22.5,"a1":0.4635,"a2":0.4595,"a3":0.4715,"b1":0.016,"b2":0.02,"b3":0.008,"c1":1501.6,"c2":1498.3,"c3":1500.15,"d1":1.6,"d2":1.7,"d3":0.15},
      {"t":22.625,"a1":0.4685,"a2":0.4715,"a3":0.4735,"b1":0.011,"b2":0.008,"b3":0.006,"c1":1502.1,"c2":1499.7,"c3":1500.4,"d1":2.1,"d2":0.3,"d3":0.4},
      {"t":22.75,"a1":0.4715,"a2":0.4755,"a3":0.4645,"b1":0.008,"b2":0.004,"b3":0.015,"c1":1502.9,"c2":1504,"c3":1500.25,"d1":2.9,"d2":4,"d3":0.25},
      {"t":22.875,"a1":0.4725,"a2":0.4735,"a3":0.4745,"b1":0.007,"b2":0.006,"b3":0.005,"c1":1502,"c2":1500.4,"c3":1500.08,"d1":2,"d2":0.4,"d3":0.08},
      {"t":23,"a1":0.4595,"a2":0.4675,"a3":0.4775,"b1":0.02,"b2":0.012,"b3":0.002,"c1":1500.8,"c2":1497.4,"c3":1500.3,"d1":0.8,"d2":2.6,"d3":0.3},
      {"t":23.125,"a1":0.4675,"a2":0.4695,"a3":0.4755,"b1":0.012,"b2":0.01,"b3":0.004,"c1":1501.4,"c2":1500.1,"c3":1500.45,"d1":1.4,"d2":0.1,"d3":0.45},
      {"t":23.25,"a1":0.4765,"a2":0.4495,"a3":0.4695,"b1":0.003,"b2":0.03,"b3":0.01,"c1":1502.3,"c2":1502.9,"c3":1500.2,"d1":2.3,"d2":2.9,"d3":0.2},
      {"t":23.375,"a1":0.4705,"a2":0.4675,"a3":0.4715,"b1":0.009,"b2":0.012,"b3":0.008,"c1":1501.6,"c2":1500.8,"c3":1500.08,"d1":1.6,"d2":0.8,"d3":0.08},
      {"t":23.5,"a1":0.4615,"a2":0.4725,"a3":0.4595,"b1":0.018,"b2":0.007,"b3":0.02,"c1":1500.4,"c2":1496.5,"c3":1500.35,"d1":0.4,"d2":3.5,"d3":0.35},
      {"t":23.625,"a1":0.4695,"a2":0.4695,"a3":0.4725,"b1":0.01,"b2":0.01,"b3":0.007,"c1":1501,"c2":1499.8,"c3":1500.5,"d1":1,"d2":0.2,"d3":0.5},
      {"t":23.75,"a1":0.4735,"a2":0.4635,"a3":0.4755,"b1":0.006,"b2":0.016,"b3":0.004,"c1":1502,"c2":1503.5,"c3":1500.25,"d1":2,"d2":3.5,"d3":0.25},
      {"t":23.875,"a1":0.4645,"a2":0.4675,"a3":0.4695,"b1":0.015,"b2":0.012,"b3":0.01,"c1":1501.1,"c2":1500.4,"c3":1500.18,"d1":1.1,"d2":0.4,"d3":0.18},
      {"t":24,"a1":0.4445,"a2":0.4475,"a3":0.4555,"b1":0.035,"b2":0.032,"b3":0.024,"c1":1499.9,"c2":1495.8,"c3":1500.5,"d1":0.1,"d2":4.2,"d3":0.5},
      {"t":24.125,"a1":0.4655,"a2":0.4695,"a3":0.4705,"b1":0.014,"b2":0.01,"b3":0.009,"c1":1500.5,"c2":1500,"c3":1500.6,"d1":0.5,"d2":0,"d3":0.6},
      {"t":24.25,"a1":0.4695,"a2":0.4715,"a3":0.4735,"b1":0.01,"b2":0.008,"b3":0.006,"c1":1501.4,"c2":1502.2,"c3":1500.3,"d1":1.4,"d2":2.2,"d3":0.3},
      {"t":24.375,"a1":0.4695,"a2":0.4715,"a3":0.4735,"b1":0.01,"b2":0.008,"b3":0.006,"c1":1500.6,"c2":1500.6,"c3":1500.15,"d1":0.6,"d2":0.6,"d3":0.15},
      {"t":24.5,"a1":0.4575,"a2":0.4595,"a3":0.4645,"b1":0.022,"b2":0.02,"b3":0.015,"c1":1499.5,"c2":1497.7,"c3":1500.4,"d1":0.5,"d2":2.3,"d3":0.4},
      {"t":24.625,"a1":0.4615,"a2":0.4645,"a3":0.4675,"b1":0.018,"b2":0.015,"b3":0.012,"c1":1500.2,"c2":1499.7,"c3":1500.55,"d1":0.2,"d2":0.3,"d3":0.55},
      {"t":24.75,"a1":0.4395,"a2":0.4425,"a3":0.4465,"b1":0.04,"b2":0.037,"b3":0.033,"c1":1501.2,"c2":1502.8,"c3":1500.3,"d1":1.2,"d2":2.8,"d3":0.3},
      {"t":24.875,"a1":0.4595,"a2":0.4615,"a3":0.4655,"b1":0.02,"b2":0.018,"b3":0.014,"c1":1500.6,"c2":1500.3,"c3":1500.12,"d1":0.6,"d2":0.3,"d3":0.12},
      {"t":25,"a1":0.4675,"a2":0.4695,"a3":0.4715,"b1":0.012,"b2":0.01,"b3":0.008,"c1":1499.8,"c2":1497,"c3":1500.35,"d1":0.2,"d2":3,"d3":0.35},
      {"t":25.125,"a1":0.4635,"a2":0.4595,"a3":0.4695,"b1":0.016,"b2":0.02,"b3":0.01,"c1":1500.2,"c2":1500.1,"c3":1500.5,"d1":0.2,"d2":0.1,"d3":0.5},
      {"t":25.25,"a1":0.4495,"a2":0.4385,"a3":0.4595,"b1":0.03,"b2":0.041,"b3":0.02,"c1":1500.9,"c2":1502.4,"c3":1500.25,"d1":0.9,"d2":2.4,"d3":0.25},
      {"t":25.375,"a1":0.4675,"a2":0.4645,"a3":0.4715,"b1":0.012,"b2":0.015,"b3":0.008,"c1":1500.3,"c2":1500.8,"c3":1500.08,"d1":0.3,"d2":0.8,"d3":0.08},
      {"t":25.5,"a1":0.4745,"a2":0.4735,"a3":0.4765,"b1":0.005,"b2":0.006,"b3":0.003,"c1":1499.3,"c2":1497.9,"c3":1500.3,"d1":0.7,"d2":2.1,"d3":0.3},
      {"t":25.625,"a1":0.4715,"a2":0.4735,"a3":0.4755,"b1":0.008,"b2":0.006,"b3":0.004,"c1":1499.8,"c2":1499.8,"c3":1500.45,"d1":0.2,"d2":0.2,"d3":0.45},
      {"t":25.75,"a1":0.4625,"a2":0.4595,"a3":0.4705,"b1":0.017,"b2":0.02,"b3":0.009,"c1":1500.6,"c2":1495.85,"c3":1500.2,"d1":0.6,"d2":4.15,"d3":0.2},
      {"t":25.875,"a1":0.4695,"a2":0.4715,"a3":0.4745,"b1":0.01,"b2":0.008,"b3":0.005,"c1":1500,"c2":1500.3,"c3":1500.02,"d1":0,"d2":0.3,"d3":0.02},
      {"t":26,"a1":0.4595,"a2":0.4745,"a3":0.4675,"b1":0.02,"b2":0.005,"b3":0.012,"c1":1499,"c2":1502.3,"c3":1500.25,"d1":1,"d2":2.3,"d3":0.25},
      {"t":26.125,"a1":0.4725,"a2":0.4735,"a3":0.4755,"b1":0.007,"b2":0.006,"b3":0.004,"c1":1499.6,"c2":1500,"c3":1500.38,"d1":0.4,"d2":0,"d3":0.38},
      {"t":26.25,"a1":0.4775,"a2":0.4655,"a3":0.4785,"b1":0.002,"b2":0.014,"b3":0.001,"c1":1500.5,"c2":1497.5,"c3":1500.1,"d1":0.5,"d2":2.5,"d3":0.1},
      {"t":26.375,"a1":0.4735,"a2":0.4725,"a3":0.4765,"b1":0.006,"b2":0.007,"b3":0.003,"c1":1499.8,"c2":1500.6,"c3":1499.92,"d1":0.2,"d2":0.6,"d3":0.08},
      {"t":26.5,"a1":0.4675,"a2":0.4615,"a3":0.4725,"b1":0.012,"b2":0.018,"b3":0.007,"c1":1498.8,"c2":1502.1,"c3":1500.15,"d1":1.2,"d2":2.1,"d3":0.15},
      {"t":26.625,"a1":0.4715,"a2":0.4735,"a3":0.4755,"b1":0.008,"b2":0.006,"b3":0.004,"c1":1499.3,"c2":1499.7,"c3":1500.28,"d1":0.7,"d2":0.3,"d3":0.28},
      {"t":26.75,"a1":0.4755,"a2":0.4765,"a3":0.4765,"b1":0.004,"b2":0.003,"b3":0.003,"c1":1500.1,"c2":1498.4,"c3":1500,"d1":0.1,"d2":1.6,"d3":0},
      {"t":26.875,"a1":0.4675,"a2":0.4695,"a3":0.4725,"b1":0.012,"b2":0.01,"b3":0.007,"c1":1499.3,"c2":1500.4,"c3":1499.82,"d1":0.7,"d2":0.4,"d3":0.18},
      {"t":27,"a1":0.4545,"a2":0.4545,"a3":0.4615,"b1":0.025,"b2":0.025,"b3":0.018,"c1":1498.2,"c2":1502.6,"c3":1500.05,"d1":1.8,"d2":2.6,"d3":0.05},
      {"t":27.125,"a1":0.4695,"a2":0.4715,"a3":0.4735,"b1":0.01,"b2":0.008,"b3":0.006,"c1":1497.5,"c2":1500.1,"c3":1500.2,"d1":2.5,"d2":0.1,"d3":0.2},
      {"t":27.25,"a1":0.4715,"a2":0.4735,"a3":0.4755,"b1":0.008,"b2":0.006,"b3":0.004,"c1":1496.3,"c2":1498.8,"c3":1499.95,"d1":3.7,"d2":1.2,"d3":0.05},
      {"t":27.375,"a1":0.4495,"a2":0.4675,"a3":0.4745,"b1":0.03,"b2":0.012,"b3":0.005,"c1":1497.3,"c2":1500.8,"c3":1499.72,"d1":2.7,"d2":0.8,"d3":0.28},
      {"t":27.5,"a1":0.4135,"a2":0.4505,"a3":0.4675,"b1":0.066,"b2":0.029,"b3":0.012,"c1":1498.8,"c2":1501.6,"c3":1499.9,"d1":1.2,"d2":1.6,"d3":0.1},
      {"t":27.625,"a1":0.4545,"a2":0.4695,"a3":0.4715,"b1":0.025,"b2":0.01,"b3":0.008,"c1":1498.1,"c2":1499.8,"c3":1500.08,"d1":1.9,"d2":0.2,"d3":0.08},
      {"t":27.75,"a1":0.4695,"a2":0.4715,"a3":0.4595,"b1":0.01,"b2":0.008,"b3":0.02,"c1":1497,"c2":1498.2,"c3":1499.85,"d1":3,"d2":1.8,"d3":0.15},
      {"t":27.875,"a1":0.4715,"a2":0.4725,"a3":0.4735,"b1":0.008,"b2":0.007,"b3":0.006,"c1":1497.6,"c2":1500.3,"c3":1499.62,"d1":2.4,"d2":0.3,"d3":0.38},
      {"t":28,"a1":0.4595,"a2":0.4635,"a3":0.4745,"b1":0.02,"b2":0.016,"b3":0.005,"c1":1498.5,"c2":1502.2,"c3":1499.8,"d1":1.5,"d2":2.2,"d3":0.2},
      {"t":28.125,"a1":0.4675,"a2":0.4645,"a3":0.4755,"b1":0.012,"b2":0.015,"b3":0.004,"c1":1497.5,"c2":1500,"c3":1499.95,"d1":2.5,"d2":0,"d3":0.05},
      {"t":28.25,"a1":0.4735,"a2":0.4455,"a3":0.4695,"b1":0.006,"b2":0.034,"b3":0.01,"c1":1496.2,"c2":1498.9,"c3":1499.7,"d1":3.8,"d2":1.1,"d3":0.3},
      {"t":28.375,"a1":0.4615,"a2":0.4655,"a3":0.4695,"b1":0.018,"b2":0.014,"b3":0.01,"c1":1496.9,"c2":1500.6,"c3":1499.52,"d1":3.1,"d2":0.6,"d3":0.48},
      {"t":28.5,"a1":0.4455,"a2":0.4735,"a3":0.4575,"b1":0.034,"b2":0.006,"b3":0.022,"c1":1497.9,"c2":1501.5,"c3":1499.75,"d1":2.1,"d2":1.5,"d3":0.25},
      {"t":28.625,"a1":0.4595,"a2":0.4715,"a3":0.4705,"b1":0.02,"b2":0.008,"b3":0.009,"c1":1497,"c2":1499.7,"c3":1499.9,"d1":3,"d2":0.3,"d3":0.1},
      {"t":28.75,"a1":0.4675,"a2":0.4595,"a3":0.4755,"b1":0.012,"b2":0.02,"b3":0.004,"c1":1495.75,"c2":1498.5,"c3":1499.65,"d1":4.25,"d2":1.5,"d3":0.35},
      {"t":28.875,"a1":0.4595,"a2":0.4695,"a3":0.4735,"b1":0.02,"b2":0.01,"b3":0.006,"c1":1496.5,"c2":1500.4,"c3":1499.48,"d1":3.5,"d2":0.4,"d3":0.52},
      {"t":29,"a1":0.4315,"a2":0.4545,"a3":0.4645,"b1":0.048,"b2":0.025,"b3":0.015,"c1":1497.6,"c2":1502,"c3":1499.7,"d1":2.4,"d2":2,"d3":0.3},
      {"t":29.125,"a1":0.4595,"a2":0.4675,"a3":0.4675,"b1":0.02,"b2":0.012,"b3":0.012,"c1":1497,"c2":1500.1,"c3":1499.85,"d1":3,"d2":0.1,"d3":0.15},
      {"t":29.25,"a1":0.4705,"a2":0.4725,"a3":0.4545,"b1":0.009,"b2":0.007,"b3":0.025,"c1":1496.1,"c2":1499,"c3":1499.6,"d1":3.9,"d2":1,"d3":0.4},
      {"t":29.375,"a1":0.4675,"a2":0.4695,"a3":0.4695,"b1":0.012,"b2":0.01,"b3":0.01,"c1":1496.8,"c2":1500.8,"c3":1499.42,"d1":3.2,"d2":0.8,"d3":0.58},
      {"t":29.5,"a1":0.4535,"a2":0.4595,"a3":0.4735,"b1":0.026,"b2":0.02,"b3":0.006,"c1":1498,"c2":1501.4,"c3":1499.65,"d1":2,"d2":1.4,"d3":0.35},
      {"t":29.625,"a1":0.4695,"a2":0.4715,"a3":0.4755,"b1":0.01,"b2":0.008,"b3":0.004,"c1":1497.5,"c2":1499.8,"c3":1499.8,"d1":2.5,"d2":0.2,"d3":0.2},
      {"t":29.75,"a1":0.4755,"a2":0.4755,"a3":0.4675,"b1":0.004,"b2":0.004,"b3":0.012,"c1":1496.6,"c2":1498.9,"c3":1499.55,"d1":3.4,"d2":1.1,"d3":0.45},
      {"t":29.875,"a1":0.4645,"a2":0.4735,"a3":0.4715,"b1":0.015,"b2":0.006,"b3":0.008,"c1":1497.3,"c2":1500.3,"c3":1499.42,"d1":2.7,"d2":0.3,"d3":0.58},
      {"t":30,"a1":0.4445,"a2":0.4655,"a3":0.4645,"b1":0.035,"b2":0.014,"b3":0.015,"c1":1498.4,"c2":1501.6,"c3":1499.7,"d1":1.6,"d2":1.6,"d3":0.3},
      {"t":30.125,"a1":0.4615,"a2":0.4715,"a3":0.4735,"b1":0.018,"b2":0.008,"b3":0.006,"c1":1497.9,"c2":1500,"c3":1499.85,"d1":2.1,"d2":0,"d3":0.15},
      {"t":30.25,"a1":0.4685,"a2":0.4735,"a3":0.4765,"b1":0.011,"b2":0.006,"b3":0.003,"c1":1497,"c2":1499.3,"c3":1499.6,"d1":3,"d2":0.7,"d3":0.4},
      {"t":30.375,"a1":0.4675,"a2":0.4695,"a3":0.4745,"b1":0.012,"b2":0.01,"b3":0.005,"c1":1497.7,"c2":1500.6,"c3":1499.38,"d1":2.3,"d2":0.6,"d3":0.62},
      {"t":30.5,"a1":0.4495,"a2":0.4525,"a3":0.4695,"b1":0.03,"b2":0.027,"b3":0.01,"c1":1498.9,"c2":1501.2,"c3":1499.55,"d1":1.1,"d2":1.2,"d3":0.45},
      {"t":30.625,"a1":0.4655,"a2":0.4675,"a3":0.4715,"b1":0.014,"b2":0.012,"b3":0.008,"c1":1498.4,"c2":1499.7,"c3":1499.8,"d1":1.6,"d2":0.3,"d3":0.2},
      {"t":30.75,"a1":0.4645,"a2":0.4675,"a3":0.4595,"b1":0.015,"b2":0.012,"b3":0.02,"c1":1497.4,"c2":1498.7,"c3":1499.65,"d1":2.6,"d2":1.3,"d3":0.35},
      {"t":30.875,"a1":0.4445,"a2":0.4495,"a3":0.4545,"b1":0.035,"b2":0.03,"b3":0.025,"c1":1498.1,"c2":1500.4,"c3":1499.38,"d1":1.9,"d2":0.4,"d3":0.62},
      {"t":31,"a1":0.3985,"a2":0.4145,"a3":0.4245,"b1":0.081,"b2":0.065,"b3":0.055,"c1":1499.3,"c2":1501.8,"c3":1499.5,"d1":0.7,"d2":1.8,"d3":0.5},
      {"t":31.125,"a1":0.4295,"a2":0.4295,"a3":0.4395,"b1":0.05,"b2":0.05,"b3":0.04,"c1":1498.9,"c2":1500.1,"c3":1499.4,"d1":1.1,"d2":0.1,"d3":0.6},
      {"t":31.25,"a1":0.4595,"a2":0.4345,"a3":0.4445,"b1":0.02,"b2":0.045,"b3":0.035,"c1":1498,"c2":1499.2,"c3":1499.15,"d1":2,"d2":0.8,"d3":0.85},
      {"t":31.375,"a1":0.4545,"a2":0.4595,"a3":0.4645,"b1":0.025,"b2":0.02,"b3":0.015,"c1":1498.7,"c2":1500.7,"c3":1499.48,"d1":1.3,"d2":0.7,"d3":0.52},
      {"t":31.5,"a1":0.4395,"a2":0.4645,"a3":0.4715,"b1":0.04,"b2":0.015,"b3":0.008,"c1":1499.8,"c2":1501.3,"c3":1499.6,"d1":0.2,"d2":1.3,"d3":0.4},
      {"t":31.625,"a1":0.4595,"a2":0.4675,"a3":0.4695,"b1":0.02,"b2":0.012,"b3":0.01,"c1":1499.2,"c2":1499.8,"c3":1499.38,"d1":0.8,"d2":0.2,"d3":0.62},
      {"t":31.75,"a1":0.4545,"a2":0.4455,"a3":0.4595,"b1":0.025,"b2":0.034,"b3":0.02,"c1":1498.2,"c2":1499,"c3":1499.55,"d1":1.8,"d2":1,"d3":0.45},
      {"t":31.875,"a1":0.4495,"a2":0.4645,"a3":0.4675,"b1":0.03,"b2":0.015,"b3":0.012,"c1":1499,"c2":1500.3,"c3":1499.78,"d1":1,"d2":0.3,"d3":0.22},
      {"t":32,"a1":0.4085,"a2":0.4595,"a3":0.4415,"b1":0.071,"b2":0.02,"b3":0.038,"c1":1500.3,"c2":1501.1,"c3":1499.6,"d1":0.3,"d2":1.1,"d3":0.4},
      {"t":32.125,"a1":0.4545,"a2":0.4695,"a3":0.4645,"b1":0.025,"b2":0.01,"b3":0.015,"c1":1499.2,"c2":1500,"c3":1499.32,"d1":0.8,"d2":0,"d3":0.68},
      {"t":32.25,"a1":0.4675,"a2":0.4715,"a3":0.4695,"b1":0.012,"b2":0.008,"b3":0.01,"c1":1497.6,"c2":1498.9,"c3":1499.45,"d1":2.4,"d2":1.1,"d3":0.55},
      {"t":32.375,"a1":0.4645,"a2":0.4675,"a3":0.4695,"b1":0.015,"b2":0.012,"b3":0.01,"c1":1498.5,"c2":1500.6,"c3":1499.7,"d1":1.5,"d2":0.6,"d3":0.3},
      {"t":32.5,"a1":0.4495,"a2":0.4515,"a3":0.4535,"b1":0.03,"b2":0.028,"b3":0.026,"c1":1499.9,"c2":1501.5,"c3":1499.55,"d1":0.1,"d2":1.5,"d3":0.45},
      {"t":32.625,"a1":0.4675,"a2":0.4695,"a3":0.4715,"b1":0.012,"b2":0.01,"b3":0.008,"c1":1499.5,"c2":1499.7,"c3":1499.28,"d1":0.5,"d2":0.3,"d3":0.72},
      {"t":32.75,"a1":0.4615,"a2":0.4695,"a3":0.4735,"b1":0.018,"b2":0.01,"b3":0.006,"c1":1498.6,"c2":1499.4,"c3":1499.4,"d1":1.4,"d2":0.6,"d3":0.6},
      {"t":32.875,"a1":0.4645,"a2":0.4715,"a3":0.4725,"b1":0.015,"b2":0.008,"b3":0.007,"c1":1499.8,"c2":1500.4,"c3":1499.65,"d1":0.2,"d2":0.4,"d3":0.35},
      {"t":33,"a1":0.4515,"a2":0.4595,"a3":0.4645,"b1":0.028,"b2":0.02,"b3":0.015,"c1":1501.5,"c2":1501,"c3":1499.5,"d1":1.5,"d2":1,"d3":0.5},
      {"t":33.125,"a1":0.4675,"a2":0.4725,"a3":0.4695,"b1":0.012,"b2":0.007,"b3":0.01,"c1":1500.7,"c2":1500.1,"c3":1499.28,"d1":0.7,"d2":0.1,"d3":0.72},
      {"t":33.25,"a1":0.4715,"a2":0.4745,"a3":0.4545,"b1":0.008,"b2":0.005,"b3":0.025,"c1":1499.4,"c2":1499.1,"c3":1499.45,"d1":0.6,"d2":0.9,"d3":0.55},
      {"t":33.375,"a1":0.4695,"a2":0.4735,"a3":0.4715,"b1":0.01,"b2":0.006,"b3":0.008,"c1":1500.4,"c2":1500.8,"c3":1499.7,"d1":0.4,"d2":0.8,"d3":0.3},
      {"t":33.5,"a1":0.4495,"a2":0.4635,"a3":0.4755,"b1":0.03,"b2":0.016,"b3":0.004,"c1":1501.8,"c2":1501.3,"c3":1499.55,"d1":1.8,"d2":1.3,"d3":0.45},
      {"t":33.625,"a1":0.4675,"a2":0.4745,"a3":0.4735,"b1":0.012,"b2":0.005,"b3":0.006,"c1":1500.9,"c2":1499.8,"c3":1499.28,"d1":0.9,"d2":0.2,"d3":0.72},
      {"t":33.75,"a1":0.4695,"a2":0.4765,"a3":0.4675,"b1":0.01,"b2":0.003,"b3":0.012,"c1":1499.6,"c2":1499.5,"c3":1499.4,"d1":0.4,"d2":0.5,"d3":0.6},
      {"t":33.875,"a1":0.4715,"a2":0.4735,"a3":0.4745,"b1":0.008,"b2":0.006,"b3":0.005,"c1":1500,"c2":1500.3,"c3":1499.65,"d1":0,"d2":0.3,"d3":0.35},
      {"t":34,"a1":0.4595,"a2":0.4645,"a3":0.4645,"b1":0.02,"b2":0.015,"b3":0.015,"c1":1500.9,"c2":1500.9,"c3":1499.5,"d1":0.9,"d2":0.9,"d3":0.5},
      {"t":34.125,"a1":0.4695,"a2":0.4745,"a3":0.4735,"b1":0.01,"b2":0.005,"b3":0.006,"c1":1500.1,"c2":1500,"c3":1499.22,"d1":0.1,"d2":0,"d3":0.78},
      {"t":34.25,"a1":0.4745,"a2":0.4755,"a3":0.4775,"b1":0.005,"b2":0.004,"b3":0.002,"c1":1498.8,"c2":1498.9,"c3":1499.35,"d1":1.2,"d2":1.1,"d3":0.65},
      {"t":34.375,"a1":0.4725,"a2":0.4755,"a3":0.4765,"b1":0.007,"b2":0.004,"b3":0.003,"c1":1499.3,"c2":1500.6,"c3":1499.6,"d1":0.7,"d2":0.6,"d3":0.4},
      {"t":34.5,"a1":0.4645,"a2":0.4685,"a3":0.4715,"b1":0.015,"b2":0.011,"b3":0.008,"c1":1500.3,"c2":1501.2,"c3":1499.45,"d1":0.3,"d2":1.2,"d3":0.55},
      {"t":34.625,"a1":0.4595,"a2":0.4755,"a3":0.4735,"b1":0.02,"b2":0.004,"b3":0.006,"c1":1499.7,"c2":1499.7,"c3":1499.18,"d1":0.3,"d2":0.3,"d3":0.82},
      {"t":34.75,"a1":0.4365,"a2":0.4775,"a3":0.4675,"b1":0.043,"b2":0.002,"b3":0.012,"c1":1498.6,"c2":1499.3,"c3":1499.3,"d1":1.4,"d2":0.7,"d3":0.7},
      {"t":34.875,"a1":0.4645,"a2":0.4675,"a3":0.4755,"b1":0.015,"b2":0.012,"b3":0.004,"c1":1499,"c2":1500.4,"c3":1499.55,"d1":1,"d2":0.4,"d3":0.45},
      {"t":35,"a1":0.4715,"a2":0.4495,"a3":0.4785,"b1":0.008,"b2":0.03,"b3":0.001,"c1":1499.9,"c2":1500.8,"c3":1499.4,"d1":0.1,"d2":0.8,"d3":0.6},
      {"t":35.125,"a1":0.4695,"a2":0.4695,"a3":0.4765,"b1":0.01,"b2":0.01,"b3":0.003,"c1":1499.3,"c2":1500.1,"c3":1499.15,"d1":0.7,"d2":0.1,"d3":0.85},
      {"t":35.25,"a1":0.4595,"a2":0.4735,"a3":0.4735,"b1":0.02,"b2":0.006,"b3":0.006,"c1":1498.2,"c2":1499,"c3":1499.3,"d1":1.8,"d2":1,"d3":0.7},
      {"t":35.375,"a1":0.4715,"a2":0.4745,"a3":0.4745,"b1":0.008,"b2":0.005,"b3":0.005,"c1":1498.6,"c2":1500.7,"c3":1499.52,"d1":1.4,"d2":0.7,"d3":0.48},
      {"t":35.5,"a1":0.4755,"a2":0.4695,"a3":0.4695,"b1":0.004,"b2":0.01,"b3":0.01,"c1":1499.4,"c2":1501.1,"c3":1499.35,"d1":0.6,"d2":1.1,"d3":0.65},
      {"t":35.625,"a1":0.4695,"a2":0.4755,"a3":0.4755,"b1":0.01,"b2":0.004,"b3":0.004,"c1":1498.9,"c2":1499.8,"c3":1499.1,"d1":1.1,"d2":0.2,"d3":0.9},
      {"t":35.75,"a1":0.4635,"a2":0.4765,"a3":0.4775,"b1":0.016,"b2":0.003,"b3":0.002,"c1":1497.9,"c2":1499.4,"c3":1499.25,"d1":2.1,"d2":0.6,"d3":0.75},
      {"t":35.875,"a1":0.4675,"a2":0.4735,"a3":0.4715,"b1":0.012,"b2":0.006,"b3":0.008,"c1":1498.3,"c2":1500.3,"c3":1499.48,"d1":1.7,"d2":0.3,"d3":0.52},
      {"t":36,"a1":0.4495,"a2":0.4655,"a3":0.4615,"b1":0.03,"b2":0.014,"b3":0.018,"c1":1499.1,"c2":1500.9,"c3":1499.3,"d1":0.9,"d2":0.9,"d3":0.7},
      {"t":36.125,"a1":0.4595,"a2":0.4715,"a3":0.4695,"b1":0.02,"b2":0.008,"b3":0.01,"c1":1498.5,"c2":1500,"c3":1499.02,"d1":1.5,"d2":0,"d3":0.98},
      {"t":36.25,"a1":0.4675,"a2":0.4595,"a3":0.4745,"b1":0.012,"b2":0.02,"b3":0.005,"c1":1497.5,"c2":1498.8,"c3":1499.15,"d1":2.5,"d2":1.2,"d3":0.85},
      {"t":36.375,"a1":0.4545,"a2":0.4735,"a3":0.4735,"b1":0.025,"b2":0.006,"b3":0.006,"c1":1497.4,"c2":1500.6,"c3":1499.4,"d1":2.6,"d2":0.6,"d3":0.6},
      {"t":36.5,"a1":0.4245,"a2":0.4735,"a3":0.4675,"b1":0.055,"b2":0.006,"b3":0.012,"c1":1496.6,"c2":1501.5,"c3":1499.25,"d1":3.4,"d2":1.5,"d3":0.75},
      {"t":36.625,"a1":0.4495,"a2":0.4695,"a3":0.4715,"b1":0.03,"b2":0.01,"b3":0.008,"c1":1497.5,"c2":1499.7,"c3":1498.98,"d1":2.5,"d2":0.3,"d3":1.02},
      {"t":36.75,"a1":0.4595,"a2":0.4535,"a3":0.4585,"b1":0.02,"b2":0.026,"b3":0.021,"c1":1498.8,"c2":1499.1,"c3":1499.1,"d1":1.2,"d2":0.9,"d3":0.9},
      {"t":36.875,"a1":0.4445,"a2":0.4715,"a3":0.4695,"b1":0.035,"b2":0.008,"b3":0.01,"c1":1498.5,"c2":1500.4,"c3":1499.26,"d1":1.5,"d2":0.4,"d3":0.74},
      {"t":37,"a1":0.4095,"a2":0.4695,"a3":0.4755,"b1":0.07,"b2":0.01,"b3":0.004,"c1":1497.8,"c2":1500.7,"c3":1499.02,"d1":2.2,"d2":0.7,"d3":0.98},
      {"t":37.125,"a1":0.4395,"a2":0.4675,"a3":0.4715,"b1":0.04,"b2":0.012,"b3":0.008,"c1":1498.8,"c2":1500.1,"c3":1499.01,"d1":1.2,"d2":0.1,"d3":0.99},
      {"t":37.25,"a1":0.4295,"a2":0.4635,"a3":0.4655,"b1":0.05,"b2":0.016,"b3":0.014,"c1":1500.2,"c2":1498.6,"c3":1499.2,"d1":0.2,"d2":1.4,"d3":0.8},
      {"t":37.375,"a1":0.4545,"a2":0.4695,"a3":0.4675,"b1":0.025,"b2":0.01,"b3":0.012,"c1":1501.2,"c2":1500.8,"c3":1499.35,"d1":1.2,"d2":0.8,"d3":0.65},
      {"t":37.5,"a1":0.4645,"a2":0.4575,"a3":0.4595,"b1":0.015,"b2":0.022,"b3":0.02,"c1":1501.9,"c2":1501,"c3":1499.1,"d1":1.9,"d2":1,"d3":0.9},
      {"t":37.625,"a1":0.4595,"a2":0.4715,"a3":0.4715,"b1":0.02,"b2":0.008,"b3":0.008,"c1":1500.5,"c2":1499.8,"c3":1499.03,"d1":0.5,"d2":0.2,"d3":0.97},
      {"t":37.75,"a1":0.4395,"a2":0.4745,"a3":0.4745,"b1":0.04,"b2":0.005,"b3":0.005,"c1":1499.5,"c2":1499.3,"c3":1499.25,"d1":0.5,"d2":0.7,"d3":0.75},
      {"t":37.875,"a1":0.4615,"a2":0.4715,"a3":0.4735,"b1":0.018,"b2":0.008,"b3":0.006,"c1":1500,"c2":1500.3,"c3":1499.4,"d1":0,"d2":0.3,"d3":0.6},
      {"t":38,"a1":0.4695,"a2":0.4645,"a3":0.4675,"b1":0.01,"b2":0.015,"b3":0.012,"c1":1500.8,"c2":1501.2,"c3":1499.15,"d1":0.8,"d2":1.2,"d3":0.85},
      {"t":38.125,"a1":0.4645,"a2":0.4695,"a3":0.4715,"b1":0.015,"b2":0.01,"b3":0.008,"c1":1499.9,"c2":1500,"c3":1499.07,"d1":0.1,"d2":0,"d3":0.93},
      {"t":38.25,"a1":0.4545,"a2":0.4595,"a3":0.4575,"b1":0.025,"b2":0.02,"b3":0.022,"c1":1498.7,"c2":1498.8,"c3":1499.3,"d1":1.3,"d2":1.2,"d3":0.7},
      {"t":38.375,"a1":0.4675,"a2":0.4715,"a3":0.4735,"b1":0.012,"b2":0.008,"b3":0.006,"c1":1499.3,"c2":1500.6,"c3":1499.4,"d1":0.7,"d2":0.6,"d3":0.6},
      {"t":38.5,"a1":0.4715,"a2":0.4755,"a3":0.4765,"b1":0.008,"b2":0.004,"b3":0.003,"c1":1500.3,"c2":1500.9,"c3":1499.1,"d1":0.3,"d2":0.9,"d3":0.9},
      {"t":38.625,"a1":0.4645,"a2":0.4735,"a3":0.4745,"b1":0.015,"b2":0.006,"b3":0.005,"c1":1499.5,"c2":1499.7,"c3":1498.99,"d1":0.5,"d2":0.3,"d3":1.01},
      {"t":38.75,"a1":0.4495,"a2":0.4655,"a3":0.4695,"b1":0.03,"b2":0.014,"b3":0.01,"c1":1498.3,"c2":1499,"c3":1499.08,"d1":1.7,"d2":1,"d3":0.92},
      {"t":38.875,"a1":0.4595,"a2":0.4695,"a3":0.4715,"b1":0.02,"b2":0.01,"b3":0.008,"c1":1498.9,"c2":1500.4,"c3":1499.39,"d1":1.1,"d2":0.4,"d3":0.61},
      {"t":39,"a1":0.4675,"a2":0.4545,"a3":0.4615,"b1":0.012,"b2":0.025,"b3":0.018,"c1":1499.9,"c2":1501.6,"c3":1499.4,"d1":0.1,"d2":1.6,"d3":0.6},
      {"t":39.125,"a1":0.4615,"a2":0.4675,"a3":0.4735,"b1":0.018,"b2":0.012,"b3":0.006,"c1":1499.6,"c2":1500.1,"c3":1499.3,"d1":0.4,"d2":0.1,"d3":0.7},
      {"t":39.25,"a1":0.4425,"a2":0.4725,"a3":0.4755,"b1":0.037,"b2":0.007,"b3":0.004,"c1":1498.9,"c2":1498.4,"c3":1499.5,"d1":1.1,"d2":1.6,"d3":0.5},
      {"t":39.375,"a1":0.4495,"a2":0.4695,"a3":0.4715,"b1":0.03,"b2":0.01,"b3":0.008,"c1":1500.1,"c2":1500.8,"c3":1499.75,"d1":0.1,"d2":0.8,"d3":0.25},
      {"t":39.5,"a1":0.4335,"a2":0.4615,"a3":0.4675,"b1":0.046,"b2":0.018,"b3":0.012,"c1":1501.8,"c2":1502,"c3":1499.6,"d1":1.8,"d2":2,"d3":0.4},
      {"t":39.625,"a1":0.4545,"a2":0.4645,"a3":0.4745,"b1":0.025,"b2":0.015,"b3":0.005,"c1":1501.6,"c2":1499.8,"c3":1499.45,"d1":1.6,"d2":0.2,"d3":0.55},
      {"t":39.75,"a1":0.4645,"a2":0.4455,"a3":0.4715,"b1":0.015,"b2":0.034,"b3":0.008,"c1":1500.9,"c2":1498.9,"c3":1499.7,"d1":0.9,"d2":1.1,"d3":0.3},
      {"t":39.875,"a1":0.4495,"a2":0.4595,"a3":0.4675,"b1":0.03,"b2":0.02,"b3":0.012,"c1":1501.6,"c2":1500.3,"c3":1499.88,"d1":1.6,"d2":0.3,"d3":0.12},
      {"t":40,"a1":0.4275,"a2":0.4435,"a3":0.4525,"b1":0.052,"b2":0.036,"b3":0.027,"c1":1502.8,"c2":1501.7,"c3":1499.65,"d1":2.8,"d2":1.7,"d3":0.35},
      {"t":40.125,"a1":0.4545,"a2":0.4645,"a3":0.4695,"b1":0.025,"b2":0.015,"b3":0.01,"c1":1502.4,"c2":1500,"c3":1499.42,"d1":2.4,"d2":0,"d3":0.58},
      {"t":40.25,"a1":0.4695,"a2":0.4715,"a3":0.4735,"b1":0.01,"b2":0.008,"b3":0.006,"c1":1501.6,"c2":1498.5,"c3":1499.6,"d1":1.6,"d2":1.5,"d3":0.4},
      {"t":40.375,"a1":0.4675,"a2":0.4715,"a3":0.4735,"b1":0.012,"b2":0.008,"b3":0.006,"c1":1502.9,"c2":1500.6,"c3":1499.75,"d1":2.9,"d2":0.6,"d3":0.25},
      {"t":40.5,"a1":0.4515,"a2":0.4615,"a3":0.4645,"b1":0.028,"b2":0.018,"b3":0.015,"c1":1504.6,"c2":1502.6,"c3":1499.5,"d1":4.6,"d2":2.6,"d3":0.5},
      {"t":40.625,"a1":0.4645,"a2":0.4715,"a3":0.4735,"b1":0.015,"b2":0.008,"b3":0.006,"c1":1504,"c2":1499.7,"c3":1499.35,"d1":4,"d2":0.3,"d3":0.65},
      {"t":40.75,"a1":0.4735,"a2":0.4755,"a3":0.4765,"b1":0.006,"b2":0.004,"b3":0.003,"c1":1502.9,"c2":1498.7,"c3":1499.6,"d1":2.9,"d2":1.3,"d3":0.4},
      {"t":40.875,"a1":0.4675,"a2":0.4695,"a3":0.4745,"b1":0.012,"b2":0.01,"b3":0.005,"c1":1503.6,"c2":1500.4,"c3":1499.88,"d1":3.6,"d2":0.4,"d3":0.12},
      {"t":41,"a1":0.4495,"a2":0.4595,"a3":0.4695,"b1":0.03,"b2":0.02,"b3":0.01,"c1":1504.9,"c2":1502.2,"c3":1499.75,"d1":4.9,"d2":2.2,"d3":0.25},
      {"t":41.125,"a1":0.4645,"a2":0.4715,"a3":0.4755,"b1":0.015,"b2":0.008,"b3":0.004,"c1":1504.3,"c2":1500.1,"c3":1499.62,"d1":4.3,"d2":0.1,"d3":0.38},
      {"t":41.25,"a1":0.4705,"a2":0.4735,"a3":0.4775,"b1":0.009,"b2":0.006,"b3":0.002,"c1":1503.1,"c2":1498,"c3":1499.9,"d1":3.1,"d2":2,"d3":0.1},
      {"t":41.375,"a1":0.4695,"a2":0.4735,"a3":0.4735,"b1":0.01,"b2":0.006,"b3":0.006,"c1":1503.5,"c2":1500.8,"c3":1500.18,"d1":3.5,"d2":0.8,"d3":0.18},
      {"t":41.5,"a1":0.4595,"a2":0.4655,"a3":0.4645,"b1":0.02,"b2":0.014,"b3":0.015,"c1":1504.4,"c2":1502.3,"c3":1500.05,"d1":4.4,"d2":2.3,"d3":0.05},
      {"t":41.625,"a1":0.4675,"a2":0.4675,"a3":0.4745,"b1":0.012,"b2":0.012,"b3":0.005,"c1":1503.6,"c2":1499.8,"c3":1499.88,"d1":3.6,"d2":0.2,"d3":0.12},
      {"t":41.75,"a1":0.4755,"a2":0.4545,"a3":0.4745,"b1":0.004,"b2":0.025,"b3":0.005,"c1":1502.2,"c2":1498.6,"c3":1500.1,"d1":2.2,"d2":1.4,"d3":0.1},
      {"t":41.875,"a1":0.4545,"a2":0.4695,"a3":0.4715,"b1":0.025,"b2":0.01,"b3":0.008,"c1":1502.6,"c2":1500.3,"c3":1500.32,"d1":2.6,"d2":0.3,"d3":0.32},
      {"t":42,"a1":0.4235,"a2":0.4715,"a3":0.4565,"b1":0.056,"b2":0.008,"b3":0.023,"c1":1503.5,"c2":1503,"c3":1500.15,"d1":3.5,"d2":3,"d3":0.15},
      {"t":42.125,"a1":0.4495,"a2":0.4715,"a3":0.4695,"b1":0.03,"b2":0.008,"b3":0.01,"c1":1502.8,"c2":1500,"c3":1499.9,"d1":2.8,"d2":0,"d3":0.1},
      {"t":42.25,"a1":0.4715,"a2":0.4635,"a3":0.4755,"b1":0.008,"b2":0.016,"b3":0.004,"c1":1501.5,"c2":1498.3,"c3":1500.05,"d1":1.5,"d2":1.7,"d3":0.05},
      {"t":42.375,"a1":0.4695,"a2":0.4695,"a3":0.4735,"b1":0.01,"b2":0.01,"b3":0.006,"c1":1501.9,"c2":1500.6,"c3":1500.28,"d1":1.9,"d2":0.6,"d3":0.28},
      {"t":42.5,"a1":0.4595,"a2":0.4595,"a3":0.4695,"b1":0.02,"b2":0.02,"b3":0.01,"c1":1502.8,"c2":1502.8,"c3":1500.1,"d1":2.8,"d2":2.8,"d3":0.1},
      {"t":42.625,"a1":0.4675,"a2":0.4715,"a3":0.4755,"b1":0.012,"b2":0.008,"b3":0.004,"c1":1502.1,"c2":1499.7,"c3":1499.92,"d1":2.1,"d2":0.3,"d3":0.08},
      {"t":42.75,"a1":0.4735,"a2":0.4745,"a3":0.4775,"b1":0.006,"b2":0.005,"b3":0.002,"c1":1500.9,"c2":1497.9,"c3":1500.15,"d1":0.9,"d2":2.1,"d3":0.15},
      {"t":42.875,"a1":0.4695,"a2":0.4735,"a3":0.4715,"b1":0.01,"b2":0.006,"b3":0.008,"c1":1501.4,"c2":1500.4,"c3":1500.3,"d1":1.4,"d2":0.4,"d3":0.3},
      {"t":43,"a1":0.4545,"a2":0.4665,"a3":0.4615,"b1":0.025,"b2":0.013,"b3":0.018,"c1":1502.4,"c2":1503,"c3":1500.05,"d1":2.4,"d2":3,"d3":0.05},
      {"t":43.125,"a1":0.4675,"a2":0.4695,"a3":0.4715,"b1":0.012,"b2":0.01,"b3":0.008,"c1":1501.7,"c2":1500.1,"c3":1499.88,"d1":1.7,"d2":0.1,"d3":0.12},
      {"t":43.25,"a1":0.4695,"a2":0.4585,"a3":0.4735,"b1":0.01,"b2":0.021,"b3":0.006,"c1":1500.6,"c2":1498.5,"c3":1500.1,"d1":0.6,"d2":1.5,"d3":0.1},
      {"t":43.375,"a1":0.4645,"a2":0.4695,"a3":0.4735,"b1":0.015,"b2":0.01,"b3":0.006,"c1":1501,"c2":1500.8,"c3":1500.35,"d1":1,"d2":0.8,"d3":0.35},
      {"t":43.5,"a1":0.4495,"a2":0.4735,"a3":0.4675,"b1":0.03,"b2":0.006,"b3":0.012,"c1":1501.9,"c2":1502.1,"c3":1500.2,"d1":1.9,"d2":2.1,"d3":0.2},
      {"t":43.625,"a1":0.4675,"a2":0.4715,"a3":0.4695,"b1":0.012,"b2":0.008,"b3":0.01,"c1":1501.3,"c2":1499.8,"c3":1499.95,"d1":1.3,"d2":0.2,"d3":0.05},
      {"t":43.75,"a1":0.4725,"a2":0.4615,"a3":0.4595,"b1":0.007,"b2":0.018,"b3":0.02,"c1":1500.3,"c2":1497.6,"c3":1500.1,"d1":0.3,"d2":2.4,"d3":0.1},
      {"t":43.875,"a1":0.4645,"a2":0.4675,"a3":0.4715,"b1":0.015,"b2":0.012,"b3":0.008,"c1":1500.9,"c2":1500.3,"c3":1500.32,"d1":0.9,"d2":0.3,"d3":0.32},
      {"t":44,"a1":0.4525,"a2":0.4485,"a3":0.4715,"b1":0.027,"b2":0.031,"b3":0.008,"c1":1502,"c2":1502,"c3":1500.15,"d1":2,"d2":2,"d3":0.15},
      {"t":44.125,"a1":0.4615,"a2":0.4645,"a3":0.4595,"b1":0.018,"b2":0.015,"b3":0.02,"c1":1501.2,"c2":1500,"c3":1499.9,"d1":1.2,"d2":0,"d3":0.1},
      {"t":44.25,"a1":0.4675,"a2":0.4675,"a3":0.4365,"b1":0.012,"b2":0.012,"b3":0.043,"c1":1500,"c2":1498.2,"c3":1500.05,"d1":0,"d2":1.8,"d3":0.05},
      {"t":44.375,"a1":0.4595,"a2":0.4545,"a3":0.4495,"b1":0.02,"b2":0.025,"b3":0.03,"c1":1500.6,"c2":1500.6,"c3":1499.6,"d1":0.6,"d2":0.6,"d3":0.4},
      {"t":44.5,"a1":0.4435,"a2":0.4305,"a3":0.4355,"b1":0.036,"b2":0.049,"b3":0.044,"c1":1501.6,"c2":1502.5,"c3":1500.2,"d1":1.6,"d2":2.5,"d3":0.2},
      {"t":44.625,"a1":0.4545,"a2":0.4495,"a3":0.4445,"b1":0.025,"b2":0.03,"b3":0.035,"c1":1500.8,"c2":1499.7,"c3":1499.5,"d1":0.8,"d2":0.3,"d3":0.5},
      {"t":44.75,"a1":0.4645,"a2":0.4415,"a3":0.4495,"b1":0.015,"b2":0.038,"b3":0.03,"c1":1499.6,"c2":1497.9,"c3":1499.3,"d1":0.4,"d2":2.1,"d3":0.7},
      {"t":44.875,"a1":0.4615,"a2":0.4595,"a3":0.4615,"b1":0.018,"b2":0.02,"b3":0.018,"c1":1500.3,"c2":1500.4,"c3":1499.95,"d1":0.3,"d2":0.4,"d3":0.05},
      {"t":45,"a1":0.4495,"a2":0.4645,"a3":0.4675,"b1":0.03,"b2":0.015,"b3":0.012,"c1":1501.5,"c2":1502.6,"c3":1500.2,"d1":1.5,"d2":2.6,"d3":0.2},
      {"t":45.125,"a1":0.4675,"a2":0.4645,"a3":0.4645,"b1":0.012,"b2":0.015,"b3":0.015,"c1":1500.7,"c2":1500.1,"c3":1500.05,"d1":0.7,"d2":0.1,"d3":0.05},
      {"t":45.25,"a1":0.4735,"a2":0.4495,"a3":0.4505,"b1":0.006,"b2":0.03,"b3":0.029,"c1":1499.4,"c2":1498.4,"c3":1500.3,"d1":0.6,"d2":1.6,"d3":0.3},
      {"t":45.375,"a1":0.4695,"a2":0.4675,"a3":0.4695,"b1":0.01,"b2":0.012,"b3":0.01,"c1":1500.4,"c2":1500.8,"c3":1500.45,"d1":0.4,"d2":0.8,"d3":0.45},
      {"t":45.5,"a1":0.4595,"a2":0.4715,"a3":0.4735,"b1":0.02,"b2":0.008,"b3":0.006,"c1":1501.9,"c2":1504.9,"c3":1500.2,"d1":1.9,"d2":4.9,"d3":0.2},
      {"t":45.625,"a1":0.4715,"a2":0.4695,"a3":0.4735,"b1":0.008,"b2":0.01,"b3":0.006,"c1":1501.1,"c2":1499.8,"c3":1500.02,"d1":1.1,"d2":0.2,"d3":0.02},
      {"t":45.75,"a1":0.4755,"a2":0.4595,"a3":0.4645,"b1":0.004,"b2":0.02,"b3":0.015,"c1":1499.8,"c2":1497.7,"c3":1500.25,"d1":0.2,"d2":2.3,"d3":0.25},
      {"t":45.875,"a1":0.4695,"a2":0.4675,"a3":0.4715,"b1":0.01,"b2":0.012,"b3":0.008,"c1":1500.3,"c2":1500.3,"c3":1500.4,"d1":0.3,"d2":0.3,"d3":0.4},
      {"t":46,"a1":0.4575,"a2":0.4525,"a3":0.4615,"b1":0.022,"b2":0.027,"b3":0.018,"c1":1501.3,"c2":1502.9,"c3":1500.15,"d1":1.3,"d2":2.9,"d3":0.15},
      {"t":46.125,"a1":0.4675,"a2":0.4695,"a3":0.4695,"b1":0.012,"b2":0.01,"b3":0.01,"c1":1500.6,"c2":1500,"c3":1500,"d1":0.6,"d2":0,"d3":0},
      {"t":46.25,"a1":0.4715,"a2":0.4745,"a3":0.4765,"b1":0.008,"b2":0.005,"b3":0.003,"c1":1499.5,"c2":1496.2,"c3":1500.25,"d1":0.5,"d2":3.8,"d3":0.25},
      {"t":46.375,"a1":0.4715,"a2":0.4715,"a3":0.4745,"b1":0.008,"b2":0.008,"b3":0.005,"c1":1500.3,"c2":1500.6,"c3":1500.42,"d1":0.3,"d2":0.6,"d3":0.42},
      {"t":46.5,"a1":0.4615,"a2":0.4615,"a3":0.4695,"b1":0.018,"b2":0.018,"b3":0.01,"c1":1501.6,"c2":1503.8,"c3":1500.2,"d1":1.6,"d2":3.8,"d3":0.2},
      {"t":46.625,"a1":0.4695,"a2":0.4675,"a3":0.4715,"b1":0.01,"b2":0.012,"b3":0.008,"c1":1500.6,"c2":1499.7,"c3":1500.05,"d1":0.6,"d2":0.3,"d3":0.05},
      {"t":46.75,"a1":0.4765,"a2":0.4715,"a3":0.4655,"b1":0.003,"b2":0.008,"b3":0.014,"c1":1499.2,"c2":1497.5,"c3":1500.3,"d1":0.8,"d2":2.5,"d3":0.3},
      {"t":46.875,"a1":0.4675,"a2":0.4645,"a3":0.4735,"b1":0.012,"b2":0.015,"b3":0.006,"c1":1499.8,"c2":1500.4,"c3":1500.42,"d1":0.2,"d2":0.4,"d3":0.42},
      {"t":47,"a1":0.4595,"a2":0.4525,"a3":0.4775,"b1":0.02,"b2":0.027,"b3":0.002,"c1":1500.9,"c2":1502.4,"c3":1500.15,"d1":0.9,"d2":2.4,"d3":0.15},
      {"t":47.125,"a1":0.4695,"a2":0.4675,"a3":0.4745,"b1":0.01,"b2":0.012,"b3":0.005,"c1":1500.5,"c2":1500.1,"c3":1500,"d1":0.5,"d2":0.1,"d3":0},
      {"t":47.25,"a1":0.4735,"a2":0.4735,"a3":0.4715,"b1":0.006,"b2":0.006,"b3":0.008,"c1":1499.6,"c2":1496,"c3":1500.25,"d1":0.4,"d2":4,"d3":0.25},
      {"t":47.375,"a1":0.4705,"a2":0.4695,"a3":0.4695,"b1":0.009,"b2":0.01,"b3":0.01,"c1":1500.4,"c2":1500.8,"c3":1500.42,"d1":0.4,"d2":0.8,"d3":0.42},
      {"t":47.5,"a1":0.4625,"a2":0.4595,"a3":0.4575,"b1":0.017,"b2":0.02,"b3":0.022,"c1":1501.8,"c2":1503,"c3":1500.2,"d1":1.8,"d2":3,"d3":0.2},
      {"t":47.625,"a1":0.4715,"a2":0.4715,"a3":0.4695,"b1":0.008,"b2":0.008,"b3":0.01,"c1":1501.1,"c2":1499.8,"c3":1500.05,"d1":1.1,"d2":0.2,"d3":0.05},
      {"t":47.75,"a1":0.4755,"a2":0.4755,"a3":0.4755,"b1":0.004,"b2":0.004,"b3":0.004,"c1":1499.9,"c2":1497.4,"c3":1500.3,"d1":0.1,"d2":2.6,"d3":0.3},
      {"t":47.875,"a1":0.4675,"a2":0.4695,"a3":0.4735,"b1":0.012,"b2":0.01,"b3":0.006,"c1":1500.3,"c2":1500.3,"c3":1500.45,"d1":0.3,"d2":0.3,"d3":0.45},
      {"t":48,"a1":0.4595,"a2":0.4615,"a3":0.4695,"b1":0.02,"b2":0.018,"b3":0.01,"c1":1501.2,"c2":1503.6,"c3":1500.2,"d1":1.2,"d2":3.6,"d3":0.2},
      {"t":48.125,"a1":0.4695,"a2":0.4675,"a3":0.4715,"b1":0.01,"b2":0.012,"b3":0.008,"c1":1500.5,"c2":1500,"c3":1499.98,"d1":0.5,"d2":0,"d3":0.02},
      {"t":48.25,"a1":0.4725,"a2":0.4735,"a3":0.4645,"b1":0.007,"b2":0.006,"b3":0.015,"c1":1499.4,"c2":1497.8,"c3":1500.15,"d1":0.6,"d2":2.2,"d3":0.15},
      {"t":48.375,"a1":0.4675,"a2":0.4715,"a3":0.4735,"b1":0.012,"b2":0.008,"b3":0.006,"c1":1500.5,"c2":1500.6,"c3":1500.4,"d1":0.5,"d2":0.6,"d3":0.4},
      {"t":48.5,"a1":0.4545,"a2":0.4655,"a3":0.4775,"b1":0.025,"b2":0.014,"b3":0.002,"c1":1502,"c2":1504.1,"c3":1500.25,"d1":2,"d2":4.1,"d3":0.25},
      {"t":48.625,"a1":0.4695,"a2":0.4645,"a3":0.4755,"b1":0.01,"b2":0.015,"b3":0.004,"c1":1501.1,"c2":1499.7,"c3":1500.02,"d1":1.1,"d2":0.3,"d3":0.02},
      {"t":48.75,"a1":0.4745,"a2":0.4555,"a3":0.4715,"b1":0.005,"b2":0.024,"b3":0.008,"c1":1499.8,"c2":1497.5,"c3":1500.2,"d1":0.2,"d2":2.5,"d3":0.2},
      {"t":48.875,"a1":0.4675,"a2":0.4675,"a3":0.4695,"b1":0.012,"b2":0.012,"b3":0.01,"c1":1500.4,"c2":1500.4,"c3":1500.45,"d1":0.4,"d2":0.4,"d3":0.45},
      {"t":49,"a1":0.4595,"a2":0.4745,"a3":0.4625,"b1":0.02,"b2":0.005,"b3":0.017,"c1":1501.5,"c2":1504.2,"c3":1500.3,"d1":1.5,"d2":4.2,"d3":0.3},
      {"t":49.125,"a1":0.4695,"a2":0.4695,"a3":0.4715,"b1":0.01,"b2":0.01,"b3":0.008,"c1":1500.8,"c2":1500.1,"c3":1500.05,"d1":0.8,"d2":0.1,"d3":0.05},
      {"t":49.25,"a1":0.4765,"a2":0.4615,"a3":0.4765,"b1":0.003,"b2":0.018,"b3":0.003,"c1":1499.7,"c2":1498,"c3":1500.2,"d1":0.3,"d2":2,"d3":0.2},
      {"t":49.375,"a1":0.4715,"a2":0.4695,"a3":0.4735,"b1":0.008,"b2":0.01,"b3":0.006,"c1":1500.8,"c2":1500.8,"c3":1500.42,"d1":0.8,"d2":0.8,"d3":0.42},
      {"t":49.5,"a1":0.4645,"a2":0.4755,"a3":0.4675,"b1":0.015,"b2":0.004,"b3":0.012,"c1":1502.3,"c2":1502.5,"c3":1500.25,"d1":2.3,"d2":2.5,"d3":0.25},
      {"t":49.625,"a1":0.4705,"a2":0.4715,"a3":0.4715,"b1":0.009,"b2":0.008,"b3":0.008,"c1":1501.8,"c2":1499.8,"c3":1500.02,"d1":1.8,"d2":0.2,"d3":0.02},
      {"t":49.75,"a1":0.4755,"a2":0.4675,"a3":0.4755,"b1":0.004,"b2":0.012,"b3":0.004,"c1":1500.8,"c2":1504.6,"c3":1500.2,"d1":0.8,"d2":4.6,"d3":0.2},
      {"t":49.875,"a1":0.4735,"a2":0.4695,"a3":0.4745,"b1":0.006,"b2":0.01,"b3":0.005,"c1":1501.4,"c2":1500.3,"c3":1500.45,"d1":1.4,"d2":0.3,"d3":0.45},
      {"t":50,"a1":0.4745,"a2":0.4735,"a3":0.4765,"b1":0.005,"b2":0.006,"b3":0.003,"c1":1502.6,"c2":1497.3,"c3":1500.3,"d1":2.6,"d2":2.7,"d3":0.3}
    ]
  },
  "data": {"name": "sim"},
  "spacing": 12,
  "resolve": {"scale": {"color": "independent", "strokeDash": "independent"}, "legend": {"color": "independent", "strokeDash": "independent"}},
  "vconcat": [
    {
      "spacing": 108,
      "resolve": {"scale": {"color": "independent", "strokeDash": "independent"}, "legend": {"color": "independent", "strokeDash": "independent"}},
      "hconcat": [
        {
          "width": 1491, "height": 1195,
          "title": {"text": "(a)"},
          "transform": [{"fold": ["a1", "a2", "a3"], "as": ["s", "v"]}],
          "resolve": {"axis": {"x": "independent", "y": "independent"}},
          "layer": [
            {
              "mark": {"type": "line", "strokeWidth": 9, "strokeJoin": "round"},
              "encoding": {
                "x": {"field": "t", "type": "quantitative", "scale": {"domain": [0, 50], "nice": false, "zero": false}, "axis": {"values": [0, 10, 20, 30, 40, 50], "format": "~r", "title": "Time (s)"}},
                "y": {"field": "v", "type": "quantitative", "scale": {"domain": [0.3, 0.55], "nice": false, "zero": false}, "axis": {"values": [0.3, 0.35, 0.4, 0.45, 0.5, 0.55], "format": "~r", "title": "The power coefficient (Cₚ)"}},
                "color": {"field": "s", "type": "nominal", "scale": {"domain": ["a1", "a2", "a3"], "range": ["#3b4a9a", "#6cb42d", "#e30b17"]},
                  "legend": {"title": null, "legendX": 620, "legendY": 27, "labelExpr": "indexof(datum.label, '1') >= 0 ? 'PID' : indexof(datum.label, '2') >= 0 ? 'LPV-MPC without KF' : 'LPV-MPC with KF'"}},
                "strokeDash": {"field": "s", "type": "nominal", "scale": {"domain": ["a1", "a2", "a3"], "range": [[51, 29], [1, 0], [41, 14, 10, 14]]},
                  "legend": {"title": null, "legendX": 620, "legendY": 27, "labelExpr": "indexof(datum.label, '1') >= 0 ? 'PID' : indexof(datum.label, '2') >= 0 ? 'LPV-MPC without KF' : 'LPV-MPC with KF'"}}
              }
            },
            {
              "mark": {"type": "point", "opacity": 0},
              "encoding": {
                "x": {"field": "t", "type": "quantitative", "scale": {"domain": [0, 50], "nice": false, "zero": false}, "axis": {"orient": "top", "values": [0, 10, 20, 30, 40, 50], "labels": false, "grid": false, "title": null}},
                "y": {"field": "v", "type": "quantitative", "scale": {"domain": [0.3, 0.55], "nice": false, "zero": false}, "axis": {"orient": "right", "values": [0.3, 0.35, 0.4, 0.45, 0.5, 0.55], "labels": false, "grid": false, "title": null}}
              }
            }
          ]
        },
        {
          "width": 1490, "height": 1195,
          "title": {"text": "(b)"},
          "transform": [{"fold": ["b1", "b2", "b3"], "as": ["s", "v"]}],
          "resolve": {"axis": {"x": "independent", "y": "independent"}},
          "layer": [
            {
              "mark": {"type": "line", "strokeWidth": 9, "strokeJoin": "round"},
              "encoding": {
                "x": {"field": "t", "type": "quantitative", "scale": {"domain": [0, 50], "nice": false, "zero": false}, "axis": {"values": [0, 10, 20, 30, 40, 50], "format": "~r", "title": "Time (s)"}},
                "y": {"field": "v", "type": "quantitative", "scale": {"domain": [0, 0.2], "nice": false}, "axis": {"values": [0, 0.05, 0.1, 0.15, 0.2], "format": "~r", "title": "|Cₚ(k)-Cₚₘₐₓ|"}},
                "color": {"field": "s", "type": "nominal", "scale": {"domain": ["b1", "b2", "b3"], "range": ["#3b4a9a", "#6cb42d", "#e30b17"]},
                  "legend": {"title": null, "legendX": 621, "legendY": 27, "labelExpr": "indexof(datum.label, '1') >= 0 ? 'PID' : indexof(datum.label, '2') >= 0 ? 'LPV-MPC without KF' : 'LPV-MPC with KF'"}},
                "strokeDash": {"field": "s", "type": "nominal", "scale": {"domain": ["b1", "b2", "b3"], "range": [[51, 29], [1, 0], [41, 14, 10, 14]]},
                  "legend": {"title": null, "legendX": 621, "legendY": 27, "labelExpr": "indexof(datum.label, '1') >= 0 ? 'PID' : indexof(datum.label, '2') >= 0 ? 'LPV-MPC without KF' : 'LPV-MPC with KF'"}}
              }
            },
            {
              "mark": {"type": "point", "opacity": 0},
              "encoding": {
                "x": {"field": "t", "type": "quantitative", "scale": {"domain": [0, 50], "nice": false, "zero": false}, "axis": {"orient": "top", "values": [0, 10, 20, 30, 40, 50], "labels": false, "grid": false, "title": null}},
                "y": {"field": "v", "type": "quantitative", "scale": {"domain": [0, 0.2], "nice": false}, "axis": {"orient": "right", "values": [0, 0.05, 0.1, 0.15, 0.2], "labels": false, "grid": false, "title": null}}
              }
            }
          ]
        }
      ]
    },
    {
      "spacing": 103,
      "resolve": {"scale": {"color": "independent", "strokeDash": "independent"}, "legend": {"color": "independent", "strokeDash": "independent"}},
      "hconcat": [
        {
          "width": 1501, "height": 1200,
          "title": {"text": "(c)"},
          "transform": [{"fold": ["c1", "c2", "c3"], "as": ["s", "v"]}],
          "resolve": {"axis": {"x": "independent", "y": "independent"}},
          "layer": [
            {
              "mark": {"type": "line", "strokeWidth": 9, "strokeJoin": "round"},
              "encoding": {
                "x": {"field": "t", "type": "quantitative", "scale": {"domain": [0, 50], "nice": false, "zero": false}, "axis": {"values": [0, 10, 20, 30, 40, 50], "format": "~r", "title": "Time (s)"}},
                "y": {"field": "v", "type": "quantitative", "scale": {"domain": [1490, 1514], "nice": false, "zero": false}, "axis": {"values": [1490, 1494, 1498, 1502, 1506, 1510, 1514], "format": "~r", "title": "Motor speed (r/min)", "titlePadding": 7}},
                "color": {"field": "s", "type": "nominal", "scale": {"domain": ["c1", "c2", "c3"], "range": ["#3b4a9a", "#6cb42d", "#e30b17"]},
                  "legend": {"title": null, "legendX": 634, "legendY": 25, "labelExpr": "indexof(datum.label, '1') >= 0 ? 'PID' : indexof(datum.label, '2') >= 0 ? 'LPV-MPC without KF' : 'LPV-MPC with KF'"}},
                "strokeDash": {"field": "s", "type": "nominal", "scale": {"domain": ["c1", "c2", "c3"], "range": [[51, 29], [1, 0], [41, 14, 10, 14]]},
                  "legend": {"title": null, "legendX": 634, "legendY": 25, "labelExpr": "indexof(datum.label, '1') >= 0 ? 'PID' : indexof(datum.label, '2') >= 0 ? 'LPV-MPC without KF' : 'LPV-MPC with KF'"}}
              }
            },
            {
              "mark": {"type": "point", "opacity": 0},
              "encoding": {
                "x": {"field": "t", "type": "quantitative", "scale": {"domain": [0, 50], "nice": false, "zero": false}, "axis": {"orient": "top", "values": [0, 10, 20, 30, 40, 50], "labels": false, "grid": false, "title": null}},
                "y": {"field": "v", "type": "quantitative", "scale": {"domain": [1490, 1514], "nice": false, "zero": false}, "axis": {"orient": "right", "values": [1490, 1494, 1498, 1502, 1506, 1510, 1514], "labels": false, "grid": false, "title": null}}
              }
            }
          ]
        },
        {
          "width": 1536, "height": 1203,
          "title": {"text": "(d)"},
          "transform": [{"fold": ["d1", "d2", "d3"], "as": ["s", "v"]}],
          "resolve": {"axis": {"x": "independent", "y": "independent"}},
          "layer": [
            {
              "mark": {"type": "line", "strokeWidth": 9, "strokeJoin": "round"},
              "encoding": {
                "x": {"field": "t", "type": "quantitative", "scale": {"domain": [0, 50], "nice": false, "zero": false}, "axis": {"values": [0, 10, 20, 30, 40, 50], "format": "~r", "title": "Time (s)"}},
                "y": {"field": "v", "type": "quantitative", "scale": {"domain": [0, 10], "nice": false}, "axis": {"values": [0, 2, 4, 6, 8, 10], "format": "~r", "title": "|ωₘ(k) - ωₘ*|"}},
                "color": {"field": "s", "type": "nominal", "scale": {"domain": ["d1", "d2", "d3"], "range": ["#3b4a9a", "#6cb42d", "#e30b17"]},
                  "legend": {"title": null, "legendX": 669, "legendY": 28, "labelExpr": "indexof(datum.label, '1') >= 0 ? 'PID' : indexof(datum.label, '2') >= 0 ? 'LPV-MPC without KF' : 'LPV-MPC with KF'"}},
                "strokeDash": {"field": "s", "type": "nominal", "scale": {"domain": ["d1", "d2", "d3"], "range": [[51, 29], [1, 0], [41, 14, 10, 14]]},
                  "legend": {"title": null, "legendX": 669, "legendY": 28, "labelExpr": "indexof(datum.label, '1') >= 0 ? 'PID' : indexof(datum.label, '2') >= 0 ? 'LPV-MPC without KF' : 'LPV-MPC with KF'"}}
              }
            },
            {
              "mark": {"type": "point", "opacity": 0},
              "encoding": {
                "x": {"field": "t", "type": "quantitative", "scale": {"domain": [0, 50], "nice": false, "zero": false}, "axis": {"orient": "top", "values": [0, 10, 20, 30, 40, 50], "labels": false, "grid": false, "title": null}},
                "y": {"field": "v", "type": "quantitative", "scale": {"domain": [0, 10], "nice": false}, "axis": {"orient": "right", "values": [0, 2, 4, 6, 8, 10], "labels": false, "grid": false, "title": null}}
              }
            }
          ]
        }
      ]
    }
  ]
}
